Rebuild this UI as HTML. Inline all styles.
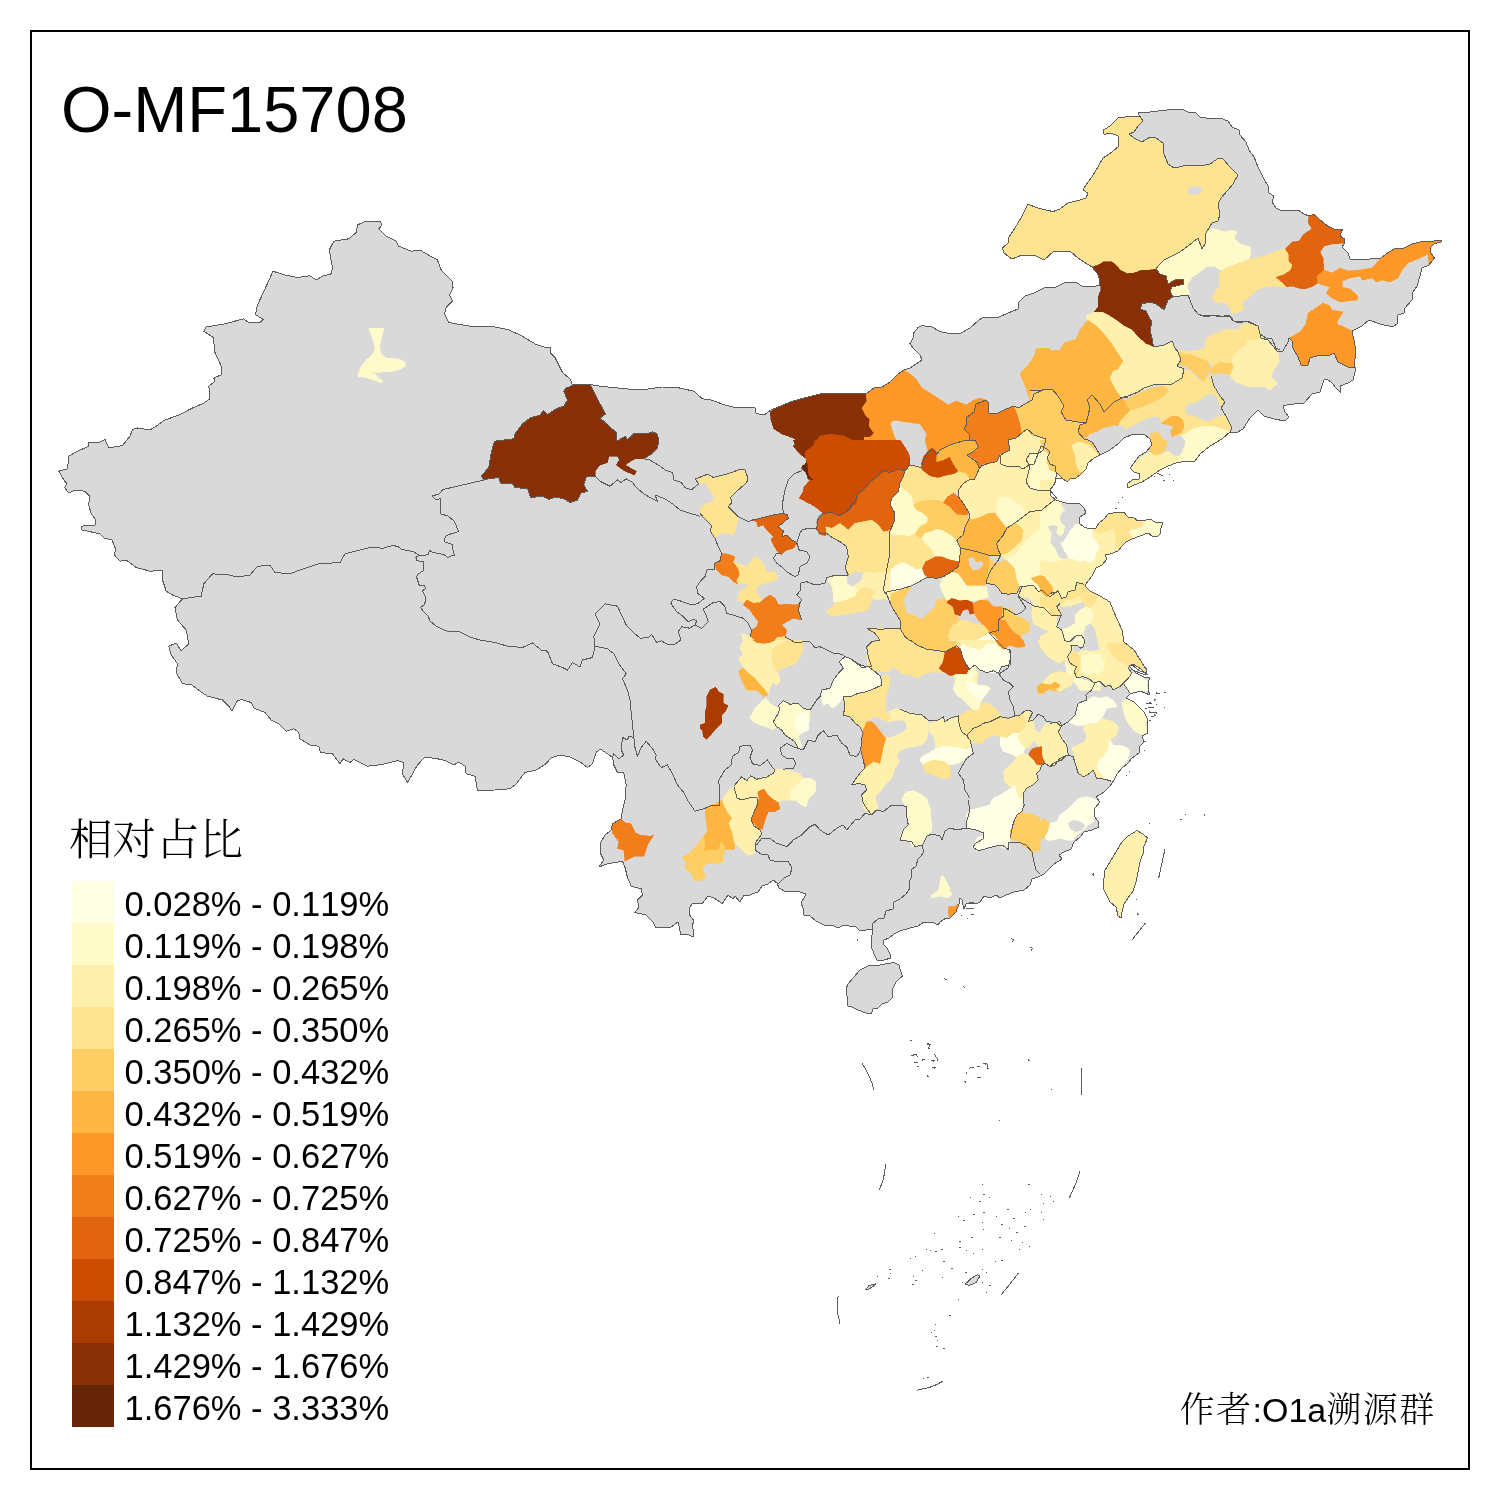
<!DOCTYPE html>
<html><head><meta charset="utf-8"><title>O-MF15708</title>
<style>
html,body{margin:0;padding:0;background:#fff;}
body{width:1500px;height:1500px;position:relative;overflow:hidden;font-family:"Liberation Sans","Noto Sans CJK SC",sans-serif;color:#000;font-kerning:none;font-feature-settings:"kern" 0;}
.frame{position:absolute;left:30px;top:30px;width:1436px;height:1436px;border:2px solid #000;box-sizing:content-box;}
.title{position:absolute;left:61px;top:72px;font-size:65px;line-height:76px;white-space:nowrap;}
.ltitle{position:absolute;left:69px;top:810px;font-size:43.5px;line-height:60px;font-family:"Liberation Serif","Noto Serif CJK SC",serif;white-space:nowrap;font-weight:300;}
.sw{position:absolute;left:72px;width:42px;height:42px;}
.lb{position:absolute;left:124.5px;font-size:34.5px;line-height:42px;height:42px;white-space:nowrap;margin-top:1.7px;}
.author{position:absolute;left:1179.5px;top:1386px;font-size:34px;line-height:48px;white-space:nowrap;font-family:"Liberation Sans","Noto Serif CJK SC",serif;font-weight:300;}
.cj{font-size:35px;letter-spacing:1.5px;}
</style></head><body>
<svg width="1500" height="1500" viewBox="0 0 1500 1500" shape-rendering="crispEdges" style="position:absolute;left:0;top:0">
<polygon points="58.8,471.2 67.5,468.8 68.8,456.2 77.5,451.2 88.8,446.2 88.8,442.5 100,442 105,439.5 108.8,448 122.5,445.5 130,436.2 132.5,429.5 137.5,428 150,430 156.2,426.2 163.8,420.5 180,414.5 192.5,408 202.5,403.8 210,398.8 208.8,386.2 215,381.2 213.8,378 222,374.5 221.2,366.2 215,352.5 213.2,337.5 203.8,331.2 206.2,327 225,323.8 243.8,318.8 247.5,322 260,322.5 263.2,319.5 255.5,314.5 257.5,305 266.2,286.2 273,271.2 285,275 297.5,277.5 310,275.8 316.2,280 322.5,276.2 331.2,273.8 332.5,267.5 329.2,250 333.8,241.2 348.8,238.8 356.2,232.5 357.5,225 363.8,222 380,221.2 382,225 378.8,228.8 386.2,236.2 396.2,241.2 398.8,246.2 411.2,251.2 420,250 427.5,254.5 437.5,260 441.2,270 452.5,281.2 453,287.5 449.5,295 452.5,301.2 446.2,307.5 444.5,313.8 448.8,322.5 462.5,325 475,327 491.2,326.2 507.5,329.5 520,335 536.2,344.5 543.8,347 550,347 550,352.5 555,357.5 562.5,372.5 570,378.8 572.5,385 590,384.5 600,386.2 617.5,388 637.5,390 650,388.8 662.5,387 675,387 693.8,391.2 702.5,398.8 711.2,400 725,405 735,407.5 755,408 756.2,413.8 765,414.5 770,410.5 776,408 790,402 804,398 820,394 836,393.6 854,393.6 866,394 874,388 882,387 890,382 898,374 904,370 910,368 916,364 922,360 920,355 913,348 910,343.6 913,338 914,332.4 918,327.6 922,325.6 932,327 940,331.6 950,333.6 959,334 970,328 978,321 983,317 990,318 999,317 1008,313 1018,309 1019,302 1025,296 1034,293 1044,288 1056,287 1064,283 1076,282.4 1082,286 1092,287 1100,285 1099.6,279 1097,273 1092,267 1084,262 1078,258 1071,252 1060,251.6 1054,251 1044,260 1034,255 1022,255 1012,259 1004,253 1002.4,248 1008,243 1009,237 1015,228 1021,218 1028,204.4 1038,208 1053,211.6 1060,209 1068,203 1080,200 1086,198 1088,193 1083,190 1086,185 1092,177 1098,167 1103,158 1112,152 1119,146 1118,136 1111,133 1104,134.4 1103.4,130 1110,126 1118,118 1132,116 1140,116.4 1138,113 1150,112 1172,109.4 1182,109 1188,112 1196,113 1200,117 1212,119 1220,118 1228,121 1232,127 1239,130 1240,135 1246,142 1249,150 1254,157 1258,167 1263,177 1268,186 1269,193 1274,196 1272,202 1276,208 1282,211 1290,210 1299,210.6 1304,214 1309,216 1314,214.4 1320,220 1328,226 1336,230 1342.4,229.4 1340,236 1344.4,239 1345,243 1342,247 1348,253 1350,259 1360,259.6 1370,259 1381,258 1386,254 1395,248.4 1404,248 1412,244 1420,242 1430,241.6 1441,240 1442,241.6 1434,244 1430,248 1431,253 1434.4,258 1429,265 1422,268 1420,276 1417,286 1413,292 1412,300 1405,308 1404,313 1398,315 1397,324 1393,327 1380,324 1369,320 1362,326 1352,331 1354,340 1356,352 1354,367 1356,368 1353,380 1348,383 1340,386 1341,393 1336,388 1332,383 1327,379 1324,380 1320,392 1312,394 1304,403 1294,404 1283,405.6 1285,412 1289,417 1285,421 1274,419 1264,416 1258,410 1250,418 1243,429 1236,433 1230,432 1222,439 1222,439 1210,446 1200,454 1195,461 1186,461 1176,463 1168,466 1160,470 1150,477 1142,482 1134,485 1128,488 1127,484 1132,480 1139,479 1140,474 1134,472 1130,468 1134,463 1139,456 1146,452 1152,445 1150,439 1144,434 1132,434.4 1124,438 1118,444 1110,450 1100,455 1094,458 1088,463 1086,469 1080,475 1076,478 1070,479 1067,482 1062,478 1056,479 1054,485 1050,490 1051,496 1056,500 1062,502 1070,504 1079,503 1084,508 1086,513 1080,517 1079,523 1084,527 1090,529 1096,528 1099,523 1104,519 1108,514 1118,512 1124,512.4 1128,517 1134,518 1138,521 1146,520 1150,519 1155,522 1163,522 1161,528 1160,534 1158,536 1152,536 1148,533 1140,536 1132,539 1126,542 1122,546 1118,551 1110,554 1105,555 1107,559 1102,565 1096,568 1092,576 1088,581 1085,586 1090,591 1100,596 1110,602 1113,610 1118,621 1122,630 1124,642 1134,650 1139,658 1144,666 1147,670 1146,673 1140,671 1132,665 1129,666 1136,673 1144,677 1150,678 1148,682 1148,690 1150,695 1140,691 1130,694 1126,698 1134,702 1140,708 1144,712 1148,720 1147,728 1148,733 1142,736 1144,742 1140,746 1139,753 1132,758 1128,763 1122,768 1117,774 1114,780 1110,786 1104,792 1096,797 1100,802 1095,808 1094,816 1098,821 1099,827 1092,830 1084,832 1080,837 1074,842 1071,849 1064,852 1059,855 1062,859 1054,864 1048,870 1044,874 1038,877 1032,879 1030,885 1024,890 1014,892 1006,895 1000,898 996,895 990,898 984,896 980,902 976,904 972,902 966,904 964,909 962,900 960,898 959,904 956,912 950,918 946,918 940,922 938,925 932,922 924,922 918,926 910,928 900,931 894,934 889,938 884,940 883,944 887,948 890,954 891,958 884,960 877,960 874,954 871,946 871,938 873,932 872,929 868,929.6 860,931 856,927 849,926 844,925 838,928 832,925 824,925 816,921 810,916 804,915 803,908 801,903 804,898 806,894 800,892 792,891 786,892 779,888 777,883 773,880 768,884 762,886 758,892 752,894 748,896 744,895 740,902 740,902 735,896 733,899 728,895 722,904 720,902 714,898 708,896 702,904 693,903 689,908 689,914 694,921 692,926 694,932 693,937 688,934.4 681,935 678,922 670,928 664,927 656,928 652.5,921.2 646.2,915 635,912.5 638.8,907.5 637.5,900 642.5,895 641.2,888.8 631.2,886.2 627.5,877.5 625,867.5 622.5,861.2 607.5,863.8 598.8,867 603.8,860 600,852.5 600,843.8 605,835 611.2,830 612.5,823.8 621.2,818.8 622.5,810 625,800 626.2,785 623.8,772.5 617.5,772.5 613.8,765 612.5,757.5 607.5,753.8 600,748.8 596.2,752.5 592.5,763.8 587.5,767.5 580,762 570,757 560,755 551.2,758 545,764.5 536.2,770 525,772.5 516.2,783.8 510,788.8 495,790 477.5,790.5 475,776.2 466.2,773.8 465,766.2 458.8,762 453.8,765 445,760.5 437.5,758.8 425,757 417.5,765 412.5,773.8 407.5,782.5 402.5,773.8 403.8,762.5 397.5,760.5 382.5,764.5 367.5,766.2 353.8,759.5 350,762.5 343,758.8 340,763.8 332.5,753.8 320.5,752.5 318.8,746.2 310,745 300,738.8 298.8,732.5 293.8,728.8 286.2,731.2 278.8,723.8 271.2,720 265,712.5 253.8,708 251.2,702.5 241.2,699.5 237,701.2 232,711.2 228.8,706.2 222.5,700 207.5,696.2 200,691.2 191.2,684.5 182.5,683.8 176.2,672.5 177.5,663.8 171.2,655 168.8,646.2 176.2,643 181.2,650.8 188.8,643.8 186.2,630 177.5,620 175,607.5 182.5,598.8 172.5,595 166.2,591.2 162.5,580 162.5,570.5 150,571.2 136.2,567.5 126.2,560 120,561.2 114.5,555 115.5,548.8 112,540 103.8,538 100,533.8 82,530 81.2,526.2 95,525 95.8,520 91.2,513.8 88.8,505 89.5,496.2 85,491.2 75,490 68.8,493 64.5,487.5 67,483.8 63.8,480 58.8,471.2" fill="#D9D9D9" stroke="none"/>
<polygon points="1137,830.6 1143,834 1147.6,838 1144,846 1143.6,852 1140,862 1138,872 1136,882 1133,891 1128,898 1124,904 1122,912 1121,918 1118,916 1116,907 1110,902 1106,894 1103,888 1104,878 1105,870 1110,862 1116,852 1122,842 1128,836" fill="#FFF0AE" stroke="#5c5c5c" stroke-width="1"/>
<polygon points="848,984 853,978 860,970 868,966 880,965 894,962.4 899,965 901,972 902.4,976 896,982 893,988 892,998 888,1002 882,1004 878,1008 873,1009 871.6,1013.6 866,1013 858,1010 852,1007 848,1006 847,996 846.4,988" fill="#D9D9D9" stroke="#5c5c5c" stroke-width="1"/>
<defs><clipPath id="cn"><polygon points="58.8,471.2 67.5,468.8 68.8,456.2 77.5,451.2 88.8,446.2 88.8,442.5 100,442 105,439.5 108.8,448 122.5,445.5 130,436.2 132.5,429.5 137.5,428 150,430 156.2,426.2 163.8,420.5 180,414.5 192.5,408 202.5,403.8 210,398.8 208.8,386.2 215,381.2 213.8,378 222,374.5 221.2,366.2 215,352.5 213.2,337.5 203.8,331.2 206.2,327 225,323.8 243.8,318.8 247.5,322 260,322.5 263.2,319.5 255.5,314.5 257.5,305 266.2,286.2 273,271.2 285,275 297.5,277.5 310,275.8 316.2,280 322.5,276.2 331.2,273.8 332.5,267.5 329.2,250 333.8,241.2 348.8,238.8 356.2,232.5 357.5,225 363.8,222 380,221.2 382,225 378.8,228.8 386.2,236.2 396.2,241.2 398.8,246.2 411.2,251.2 420,250 427.5,254.5 437.5,260 441.2,270 452.5,281.2 453,287.5 449.5,295 452.5,301.2 446.2,307.5 444.5,313.8 448.8,322.5 462.5,325 475,327 491.2,326.2 507.5,329.5 520,335 536.2,344.5 543.8,347 550,347 550,352.5 555,357.5 562.5,372.5 570,378.8 572.5,385 590,384.5 600,386.2 617.5,388 637.5,390 650,388.8 662.5,387 675,387 693.8,391.2 702.5,398.8 711.2,400 725,405 735,407.5 755,408 756.2,413.8 765,414.5 770,410.5 776,408 790,402 804,398 820,394 836,393.6 854,393.6 866,394 874,388 882,387 890,382 898,374 904,370 910,368 916,364 922,360 920,355 913,348 910,343.6 913,338 914,332.4 918,327.6 922,325.6 932,327 940,331.6 950,333.6 959,334 970,328 978,321 983,317 990,318 999,317 1008,313 1018,309 1019,302 1025,296 1034,293 1044,288 1056,287 1064,283 1076,282.4 1082,286 1092,287 1100,285 1099.6,279 1097,273 1092,267 1084,262 1078,258 1071,252 1060,251.6 1054,251 1044,260 1034,255 1022,255 1012,259 1004,253 1002.4,248 1008,243 1009,237 1015,228 1021,218 1028,204.4 1038,208 1053,211.6 1060,209 1068,203 1080,200 1086,198 1088,193 1083,190 1086,185 1092,177 1098,167 1103,158 1112,152 1119,146 1118,136 1111,133 1104,134.4 1103.4,130 1110,126 1118,118 1132,116 1140,116.4 1138,113 1150,112 1172,109.4 1182,109 1188,112 1196,113 1200,117 1212,119 1220,118 1228,121 1232,127 1239,130 1240,135 1246,142 1249,150 1254,157 1258,167 1263,177 1268,186 1269,193 1274,196 1272,202 1276,208 1282,211 1290,210 1299,210.6 1304,214 1309,216 1314,214.4 1320,220 1328,226 1336,230 1342.4,229.4 1340,236 1344.4,239 1345,243 1342,247 1348,253 1350,259 1360,259.6 1370,259 1381,258 1386,254 1395,248.4 1404,248 1412,244 1420,242 1430,241.6 1441,240 1442,241.6 1434,244 1430,248 1431,253 1434.4,258 1429,265 1422,268 1420,276 1417,286 1413,292 1412,300 1405,308 1404,313 1398,315 1397,324 1393,327 1380,324 1369,320 1362,326 1352,331 1354,340 1356,352 1354,367 1356,368 1353,380 1348,383 1340,386 1341,393 1336,388 1332,383 1327,379 1324,380 1320,392 1312,394 1304,403 1294,404 1283,405.6 1285,412 1289,417 1285,421 1274,419 1264,416 1258,410 1250,418 1243,429 1236,433 1230,432 1222,439 1222,439 1210,446 1200,454 1195,461 1186,461 1176,463 1168,466 1160,470 1150,477 1142,482 1134,485 1128,488 1127,484 1132,480 1139,479 1140,474 1134,472 1130,468 1134,463 1139,456 1146,452 1152,445 1150,439 1144,434 1132,434.4 1124,438 1118,444 1110,450 1100,455 1094,458 1088,463 1086,469 1080,475 1076,478 1070,479 1067,482 1062,478 1056,479 1054,485 1050,490 1051,496 1056,500 1062,502 1070,504 1079,503 1084,508 1086,513 1080,517 1079,523 1084,527 1090,529 1096,528 1099,523 1104,519 1108,514 1118,512 1124,512.4 1128,517 1134,518 1138,521 1146,520 1150,519 1155,522 1163,522 1161,528 1160,534 1158,536 1152,536 1148,533 1140,536 1132,539 1126,542 1122,546 1118,551 1110,554 1105,555 1107,559 1102,565 1096,568 1092,576 1088,581 1085,586 1090,591 1100,596 1110,602 1113,610 1118,621 1122,630 1124,642 1134,650 1139,658 1144,666 1147,670 1146,673 1140,671 1132,665 1129,666 1136,673 1144,677 1150,678 1148,682 1148,690 1150,695 1140,691 1130,694 1126,698 1134,702 1140,708 1144,712 1148,720 1147,728 1148,733 1142,736 1144,742 1140,746 1139,753 1132,758 1128,763 1122,768 1117,774 1114,780 1110,786 1104,792 1096,797 1100,802 1095,808 1094,816 1098,821 1099,827 1092,830 1084,832 1080,837 1074,842 1071,849 1064,852 1059,855 1062,859 1054,864 1048,870 1044,874 1038,877 1032,879 1030,885 1024,890 1014,892 1006,895 1000,898 996,895 990,898 984,896 980,902 976,904 972,902 966,904 964,909 962,900 960,898 959,904 956,912 950,918 946,918 940,922 938,925 932,922 924,922 918,926 910,928 900,931 894,934 889,938 884,940 883,944 887,948 890,954 891,958 884,960 877,960 874,954 871,946 871,938 873,932 872,929 868,929.6 860,931 856,927 849,926 844,925 838,928 832,925 824,925 816,921 810,916 804,915 803,908 801,903 804,898 806,894 800,892 792,891 786,892 779,888 777,883 773,880 768,884 762,886 758,892 752,894 748,896 744,895 740,902 740,902 735,896 733,899 728,895 722,904 720,902 714,898 708,896 702,904 693,903 689,908 689,914 694,921 692,926 694,932 693,937 688,934.4 681,935 678,922 670,928 664,927 656,928 652.5,921.2 646.2,915 635,912.5 638.8,907.5 637.5,900 642.5,895 641.2,888.8 631.2,886.2 627.5,877.5 625,867.5 622.5,861.2 607.5,863.8 598.8,867 603.8,860 600,852.5 600,843.8 605,835 611.2,830 612.5,823.8 621.2,818.8 622.5,810 625,800 626.2,785 623.8,772.5 617.5,772.5 613.8,765 612.5,757.5 607.5,753.8 600,748.8 596.2,752.5 592.5,763.8 587.5,767.5 580,762 570,757 560,755 551.2,758 545,764.5 536.2,770 525,772.5 516.2,783.8 510,788.8 495,790 477.5,790.5 475,776.2 466.2,773.8 465,766.2 458.8,762 453.8,765 445,760.5 437.5,758.8 425,757 417.5,765 412.5,773.8 407.5,782.5 402.5,773.8 403.8,762.5 397.5,760.5 382.5,764.5 367.5,766.2 353.8,759.5 350,762.5 343,758.8 340,763.8 332.5,753.8 320.5,752.5 318.8,746.2 310,745 300,738.8 298.8,732.5 293.8,728.8 286.2,731.2 278.8,723.8 271.2,720 265,712.5 253.8,708 251.2,702.5 241.2,699.5 237,701.2 232,711.2 228.8,706.2 222.5,700 207.5,696.2 200,691.2 191.2,684.5 182.5,683.8 176.2,672.5 177.5,663.8 171.2,655 168.8,646.2 176.2,643 181.2,650.8 188.8,643.8 186.2,630 177.5,620 175,607.5 182.5,598.8 172.5,595 166.2,591.2 162.5,580 162.5,570.5 150,571.2 136.2,567.5 126.2,560 120,561.2 114.5,555 115.5,548.8 112,540 103.8,538 100,533.8 82,530 81.2,526.2 95,525 95.8,520 91.2,513.8 88.8,505 89.5,496.2 85,491.2 75,490 68.8,493 64.5,487.5 67,483.8 63.8,480 58.8,471.2"/></clipPath></defs>
<g stroke="none" clip-path="url(#cn)">
<polygon points="368.8,328.2 383.8,328.2 379.5,346.2 381.2,353.8 386.2,358 397.5,358.8 405,362.5 405.5,366.2 395,371.2 372.5,372.5 382.5,381.2 381.2,383 367.5,378 357.5,376.2 361.2,366.2 367.5,358.8 373.8,352.5 375,346.2" fill="#FFFACA" stroke="#FFFACA" stroke-width="0.6"/>
<polygon points="572.5,385.5 590,384.5 605.5,414.2 600,418 616.2,432.5 617,441.2 625,436.2 627.5,439.5 633.8,433.8 646.2,433.8 652.5,432 657,433.8 658.8,440 657.5,447.5 650,455 643.8,458.8 635,458.8 628.8,462.5 625,465 636.2,471.2 634.5,475 625,471.2 616.2,465 619.5,460 617.5,456.2 608.8,456.2 607.5,462.5 600,465 595,471.2 595,476.2 586.2,477 583.8,485 587.5,491.2 581.2,493 577.5,500 570,502.5 563.8,498.8 555,497 548.8,499.5 542.5,496.2 530.5,497.5 527.5,488.8 515,487.5 512.5,483.8 501.2,483.8 498.8,477.5 483.8,479.5 481.2,476.2 488.8,467.5 491.2,452.5 494.5,441.2 513.8,438.8 515,433.8 522.5,423.8 530,418 540,415 543.8,410.5 547.5,414.5 556.2,408.8 563.8,406.2 567.5,400 563.8,391.2 566.2,388" fill="#882F05" stroke="#882F05" stroke-width="0.6"/>
<polygon points="621.2,818.8 625,822.5 631.2,823.8 635,832.5 640,835 650,836.2 653.8,835 647.5,845 643.8,856.2 635,856.2 625,861.2 623.8,850 617.5,848.8 618.8,841.2 612.5,832.5 612,825" fill="#F27E1B" stroke="#F27E1B" stroke-width="0.6"/>
<polygon points="770,412 776,408 790,402 804,398 820,394 836,393.6 854,393.6 866,394 867,401 862,408 866,416 870,419 869,426 874,433 870,437 864,437 864,442 852,440 844,436 830,434 820,436 814,444 808,450 803,448 806,454 805,458 800,454 793,446 799,442 793,438 782,434 774,429 771,420" fill="#882F05" stroke="#882F05" stroke-width="0.6"/>
<polygon points="806,459 809,461 810,472 813,475 812.4,480 808,479 806,471 801.6,468 803,465 806,466" fill="#662506" stroke="#662506" stroke-width="0.6"/>
<polygon points="814,444 820,436 830,434 844,436 852,440 864,442 882,443 890,446 902,449 908,452 910,458 908,466 904,468 898,470 890,473 883,472 878,478 874,477 870,486 864,490 859,497 855,500 854,508 850,506 848,514 838,516 830,512 824,507 816,503 810,504 799,498 803,492 804,487 810,480 813,475 810,472 809,461 805,458 806,454 808,450" fill="#CC4C02" stroke="#CC4C02" stroke-width="0.6"/>
<polygon points="866,394 874,388 882,387 890,382 898,374 904,370 910,374 916,379 922,388 930,393 938,398 948,405 956,401 966,405 974,400 980,398 986,400 976,404 974,412 966,418 967,424 964,429 969,434 970,440 962,443 950,446 942,450 936,451 932,448 928,451 925,440 927,434 920,424 906,422 894,420 890,423 894,436 900,448 890,446 882,443 864,442 864,437 870,437 874,433 869,426 870,419 866,416 862,408 867,401" fill="#FE9929" stroke="#FE9929" stroke-width="0.6"/>
<polygon points="974,412 976,404 986,400 988,402 989,413 998,413 1006,409 1014,406 1019,420 1022,433 1016,438 1008,440 1010,450 1004,453 1000,454 996,462 984,464 978,467 976,460 967,455 976,450 978,446 972,443 970,440 969,434 964,429 967,424 966,418" fill="#F27E1B" stroke="#F27E1B" stroke-width="0.6"/>
<polygon points="936,451 942,450 950,446 962,443 970,440 972,443 978,446 976,450 967,455 976,460 978,467 976,476 970,478 966,472 958,470 954,460 948,458 942,460 937,462" fill="#FEB642" stroke="#FEB642" stroke-width="0.6"/>
<polygon points="924,456 928,451 932,448 936,451 937,462 942,460 948,458 954,460 958,470 952,472 944,475 938,478 929,477 922,470 921,465" fill="#CC4C02" stroke="#CC4C02" stroke-width="0.6"/>
<polygon points="904,468 908,466 910,465 906,472 902,480 898,488 894,496 890,502 892,510 895,517 893,526 888,532 882,532 876,524 868,520 860,522 850,530 844,524 838,523 836,527 827,526 825.6,536 819,534 816.6,522 819,516 826,511 830,512 838,516 848,514 850,506 854,508 855,500 859,497 864,490 870,486 874,477 878,478 883,472 890,473 898,470" fill="#E1640E" stroke="#E1640E" stroke-width="0.6"/>
<polygon points="1008,440 1016,438 1022,433 1027,429 1034,435 1046,439 1043,450 1038,454 1034,464 1029,465 1023,469 1018,466 1008,467 1001,464 1000,456 1004,453 1010,450" fill="#FFF0AE" stroke="#FFF0AE" stroke-width="0.6"/>
<polygon points="1014,406 1019,416 1022,433 1027,429 1034,435 1046,439 1050,438 1050,389 1044,389.6 1034,394 1032,400 1018,408" fill="#FECE65" stroke="#FECE65" stroke-width="0.6"/>
<polygon points="1038,349 1046,348 1050,349 1050,389 1044,389.6 1034,394 1027,389 1026,380 1020,373 1029,364 1034,356" fill="#FEB642" stroke="#FEB642" stroke-width="0.6"/>
<polygon points="1092,267 1084,262 1078,258 1071,252 1060,251.6 1054,251 1044,260 1034,255 1022,255 1012,259 1004,253 1002.4,248 1008,243 1009,237 1015,228 1021,218 1028,204.4 1038,208 1053,211.6 1060,209 1068,203 1080,200 1086,198 1088,193 1083,190 1086,185 1092,177 1098,167 1103,158 1112,152 1119,146 1118,136 1111,133 1104,134.4 1103.4,130 1110,126 1118,118 1132,116 1140,116.4 1143,121 1138,126 1134,132 1129,134 1134,138 1142,142 1150,137 1156,138 1163,143 1164,154 1168,164 1174,168 1188,165 1200,166 1210,164 1218,158.4 1223,159 1230,167 1238,175 1233,184 1228,190 1221,198 1218,204 1220,214 1218,221 1212,223 1206,233 1205,244 1202,249 1198,238 1188,246 1180,252 1172,256 1164,260 1158,266 1156,269 1150,270 1142,270 1134,273 1127,273.6 1120,270 1117,266 1112,262 1104,261.6 1098,265" fill="#FEE391" stroke="#FEE391" stroke-width="0.6"/>
<polygon points="1187,190 1192,186.4 1201,187 1202,191 1198,194 1189,194.4" fill="#D9D9D9" stroke="#D9D9D9" stroke-width="0.6"/>
<polygon points="1092,267 1098,265 1104,261.6 1112,262 1117,266 1120,270 1127,273.6 1134,273 1142,270 1150,270 1156,269 1160,274 1166,276 1168,284 1177,279 1183,279 1183.6,284 1172,287 1170,291 1173,297 1168,300 1164,310 1159,306 1156,304 1150,302 1142,304 1140,309 1146,311 1149,317 1152,322 1150,330 1152,338 1153.6,347 1146,344 1138,337 1132,330 1124,326 1116,320 1108,315 1102,312 1094,312 1098,307 1098.4,296 1101,290 1099.6,279 1097,273" fill="#882F05" stroke="#882F05" stroke-width="0.6"/>
<polygon points="1158,266 1164,260 1172,256 1180,252 1188,246 1198,238 1202,249 1205,244 1206,233 1212,228 1224,232 1232,230 1237,232 1234,238 1240,244 1250,247 1251,254 1248,260 1247,266 1238,267 1228,269 1220,270 1214,266 1206,267 1200,272 1192,277 1187,286 1190,295 1174,296 1170,291 1172,287 1183.6,284 1183,279 1177,279 1168,284 1166,276 1160,274 1156,269" fill="#FFFACA" stroke="#FFFACA" stroke-width="0.6"/>
<polygon points="1086,316 1094,312 1102,312 1108,315 1116,320 1124,326 1132,330 1138,337 1146,344 1153.6,347 1164,345 1172,341 1175,348 1178,352 1181,360 1177,366 1184,369 1182,378 1172,384 1156,384 1144,388 1138,392 1128,396 1120,398 1114,388 1111,380 1117,370 1123,361 1118,354 1112,344 1104,334 1096,326 1088,320" fill="#FFF0AE" stroke="#FFF0AE" stroke-width="0.6"/>
<polygon points="1088,320 1096,326 1104,334 1112,344 1118,354 1123,361 1117,370 1111,380 1114,388 1120,398 1116,400 1030,400 1026,388 1020,374 1030,366 1034,360 1036,349 1046,348 1050,351 1060,350 1064,343 1076,339 1080,330 1086,322" fill="#FEB642" stroke="#FEB642" stroke-width="0.6"/>
<polygon points="1309,216 1314,214.4 1320,220 1328,226 1336,230 1342.4,229.4 1340,236 1344.4,239 1345,243 1332,244 1324,246 1320,252 1323,258 1324,270 1317,276 1318,283 1311,287 1304,289 1298,288 1292,286 1286,287 1281,282 1275,277 1284,274 1290,270 1292,265 1288,261 1288,254 1285,249 1292,242 1299,241 1304,234 1312,229 1308,222" fill="#E1640E" stroke="#E1640E" stroke-width="0.6"/>
<polygon points="1317,276 1324,270 1332,273 1340,268 1348,271 1360,270 1372,268 1381,258 1386,254 1395,248.4 1404,248 1412,244 1420,242 1430,241.6 1441,240 1442,241.6 1434,244 1430,248 1431,253 1434.4,258 1429,265 1428,254 1420,258 1408,263 1402,270 1398,278 1390,282 1382,280 1376,282 1372,278 1362,280 1360,276 1350,278 1342,281 1342,287 1350,289 1358,296 1357,300 1348,301 1340,302 1332,298 1326,293 1330,287 1320,284 1318,283" fill="#FE9929" stroke="#FE9929" stroke-width="0.6"/>
<polygon points="1289,338 1300,332 1306,324 1308,313 1316,308 1323,303 1330,306 1332,310 1343,312 1338,320 1337,324 1346,328 1352,331 1354,340 1356,352 1354,367 1348,367 1338,362 1334,353 1328,356 1320,355 1310,358 1308,365 1301,365 1298,357 1293,348 1292,341" fill="#FE9929" stroke="#FE9929" stroke-width="0.6"/>
<polygon points="1220,272 1226,268 1250,259 1264,256 1280,250 1285,249 1288,254 1288,261 1292,265 1290,270 1284,274 1275,277 1281,282 1286,287 1268,286 1256,290 1248,298 1242,302 1244,310 1232,314 1230,308 1224,302 1216,302 1212,299 1216,290 1220,286 1219,278" fill="#FEE391" stroke="#FEE391" stroke-width="0.6"/>
<polygon points="1030,370 1114,370 1110,378 1116,390 1122,398 1114,402 1108,408 1104,412 1100,404 1092,395 1087,400 1090,407 1088,416 1086,423 1078,422 1066,420 1061,412 1064,406 1058,396 1052,389 1042,390 1030,390" fill="#FEB642" stroke="#FEB642" stroke-width="0.6"/>
<polygon points="1087,400 1092,395 1100,404 1104,412 1108,408 1114,402 1122,398 1126,402 1130,408 1128,414 1124,418 1126,422 1123,430 1116,426 1108,432 1104,428 1098,431 1090,434 1084,439 1078,432 1080,425 1086,423 1088,416 1090,407" fill="#FEB642" stroke="#FEB642" stroke-width="0.6"/>
<polygon points="1114,370 1186,370 1184,378 1174,380 1170,385 1156,384 1146,389 1134,392 1128,397 1122,398 1116,390 1110,378" fill="#FFF0AE" stroke="#FFF0AE" stroke-width="0.6"/>
<polygon points="1071,446 1078,442 1084,439 1088,440 1092,442 1096,448 1100,455 1094,458 1088,463 1086,469 1080,470 1077,464 1076,454 1072,450" fill="#FFF0AE" stroke="#FFF0AE" stroke-width="0.6"/>
<polygon points="1030,390 1042,390 1052,389 1058,396 1064,406 1061,412 1066,420 1078,422 1080,425 1078,432 1084,439 1078,442 1071,446 1072,450 1076,454 1077,464 1080,470 1086,469 1080,475 1076,478 1070,479 1067,482 1062,478 1056,472 1055,466 1050,464 1047,458 1050,452 1047,449 1041,446 1045,439 1036,436 1030,434" fill="#FECE65" stroke="#FECE65" stroke-width="0.6"/>
<polygon points="1030,453 1038,454 1041,446 1047,449 1050,452 1047,458 1050,464 1055,466 1056,472 1062,478 1056,479 1054,485 1050,490 1040,491 1030,488" fill="#FFFACA" stroke="#FFFACA" stroke-width="0.6"/>
<polygon points="949,906 954,907 958,904 957,909 955,914 950,918 948,913" fill="#FE9929" stroke="#FE9929" stroke-width="0.6"/>
<polygon points="942,875 945,880 948,888 952,894 948,898 940,896 932,898 931,895.6 938,891 940,884" fill="#FFFACA" stroke="#FFFACA" stroke-width="0.6"/>
<polygon points="906,800 926,800 928,810 930,820 932,830 927,836 922,846 917,844 912,847 910,840 902,839 900,836 904,830 910,826 908,816 906,808" fill="#FFFACA" stroke="#FFFACA" stroke-width="0.6"/>
<polygon points="970,810 980,808 990,806 992,800 1024,800 1022,808 1016,816 1012,824 1010,836 1009,850 1002,845 996,846 988,848 978,851 973,847 976,843 983,839 984,833 976,830 966,828 967,820" fill="#FFFFE5" stroke="#FFFFE5" stroke-width="0.6"/>
<polygon points="1016,816 1024,813 1032,814 1040,818 1040,850 1036,851 1032,852 1026,845 1018,842 1012,838 1010,836 1012,824" fill="#FECE65" stroke="#FECE65" stroke-width="0.6"/>
<polygon points="758,800 776,800 780,808 770,812 764,811 763,820 761,830 756,826 751,820 754,812" fill="#F27E1B" stroke="#F27E1B" stroke-width="0.6"/>
<polygon points="740,800 758,800 754,812 751,820 756,826 761,830 760,835 756,840 755,852 748,855 740,848" fill="#FFF0AE" stroke="#FFF0AE" stroke-width="0.6"/>
<polygon points="863,801 868,800 876,800 878,806 874,812 872,815 867,812 863,807" fill="#FFF0AE" stroke="#FFF0AE" stroke-width="0.6"/>
<polygon points="705,808 712,805 721,804 724,810 728,818 732,820 727,830 730,838 735,844 734,849 724,850 720,846 718,851 710,852 704,852 705,840 708,834 706,820" fill="#FEB642" stroke="#FEB642" stroke-width="0.6"/>
<polygon points="696,846 700,841 704,840 704,852 710,852 718,851 720,846 724,850 723,862 716,864 708,862 702,868 706,877 700,881 694,880 691,873 685,869 686,862 682,857 688,854" fill="#FECE65" stroke="#FECE65" stroke-width="0.6"/>
<polygon points="723,798 729,790 734,787 738,798 746,799 754,797 757,802 754,812 751,820 754,826 760,830 757,838 755,846 754,854 748,855 743,851 738,846 735,844 730,838 727,830 732,820 728,818 724,810" fill="#FFF0AE" stroke="#FFF0AE" stroke-width="0.6"/>
<polygon points="736,785 742,777 746,781 751,776 756,780 764,777 772,774 774,769 780,770 790,771 800,774 803,780 796,789 792,796 786,798 778,802 772,798 767,795 764,790 758,792 754,797 746,799 738,798" fill="#FFF0AE" stroke="#FFF0AE" stroke-width="0.6"/>
<polygon points="796,789 803,780 810,778 816,783 815,792 809,798 806,807 800,804 795,798 792,796" fill="#FFFACA" stroke="#FFFACA" stroke-width="0.6"/>
<polygon points="761,791 766,790 767,795 772,798 778,802 780,809 772,812 766,810 763,820 762,829 757,828 752,822 754,812 757,802 760,798" fill="#F27E1B" stroke="#F27E1B" stroke-width="0.6"/>
<polygon points="850,440 900,440 906.7,450 909.2,458.3 910,465 905,470.8 898.3,469.2 890,472.5 881.7,470 878.3,475.8 870,481.7 865,488.3 858.3,493.3 855,501.7 850,506.7" fill="#CC4C02" stroke="#CC4C02" stroke-width="0.6"/>
<polygon points="905,470.8 903.3,476.7 900,483.3 898.3,491.7 891.7,498.3 890,505 894.2,511.7 895,520 889.2,532.5 883.3,531.7 878.3,525 871.7,520.8 865,520.8 858.3,523.3 850,526.7 850,506.7 855,501.7 858.3,493.3 865,488.3 870,481.7 878.3,475.8 881.7,470 890,472.5 898.3,469.2" fill="#E1640E" stroke="#E1640E" stroke-width="0.6"/>
<polygon points="850,526.7 858.3,523.3 865,520.8 871.7,520.8 878.3,525 883.3,531.7 889.2,532.5 890,546.7 889.2,556.7 885.8,575 883.3,590 875,595 866.7,594.2 865,586.7 865.8,571.7 860,568.3 850,568.3" fill="#FEE391" stroke="#FEE391" stroke-width="0.6"/>
<polygon points="850,586.7 856.7,587.5 865,586.7 866.7,594.2 875,595 883.3,590 885,592.5 886.7,594.2 880,600 870,598.3 860,600.8 850,600" fill="#FFF0AE" stroke="#FFF0AE" stroke-width="0.6"/>
<polygon points="910,465 921.7,465.8 923.3,470.8 930,475.8 938.3,477.5 946.7,475 955,473.3 958.3,470.8 966.7,473.3 970,479.2 963.3,483.3 958.3,490 953.3,493.3 946.7,497.5 943.3,502.5 936.7,500 928.3,500 920,501.7 913.3,505 911.7,496.7 906.7,491.7 901.7,488.3 900,483.3 903.3,476.7 905,470.8" fill="#FEE391" stroke="#FEE391" stroke-width="0.6"/>
<polygon points="921.7,468.3 923.3,460 928.3,451.7 932.5,449.2 936.7,454.2 936.7,461.7 943.3,460 950,456.7 954.2,465 958.3,470.8 955,473.3 946.7,475 938.3,477.5 930,475.8 923.3,470.8" fill="#CC4C02" stroke="#CC4C02" stroke-width="0.6"/>
<polygon points="936.7,454.2 940,450 950,445 963.3,440 975,440 978.3,446.7 973.3,451.7 966.7,455 976.7,461.7 979.2,468.3 976.7,475 974.2,479.2 970,479.2 966.7,473.3 958.3,470.8 954.2,465 950,456.7 943.3,460 936.7,461.7" fill="#FEB642" stroke="#FEB642" stroke-width="0.6"/>
<polygon points="900,483.3 901.7,488.3 906.7,491.7 911.7,496.7 913.3,505 916.7,510 923.3,513.3 928.3,518.3 926.7,523.3 920,526.7 915,533.3 908.3,536.7 900,535 893.3,535.8 889.2,532.5 895,520 894.2,511.7 890,505 891.7,498.3 898.3,491.7" fill="#FFFACA" stroke="#FFFACA" stroke-width="0.6"/>
<polygon points="913.3,505 920,501.7 928.3,500 936.7,500 943.3,502.5 950,506.7 956.7,514.2 966.7,515 969.2,518.3 965,526.7 963.3,535 956.7,540 950,535 943.3,530.8 936.7,529.2 931.7,531.7 925,533.3 921.7,538.3 916.7,536.7 915,533.3 920,526.7 926.7,523.3 928.3,518.3 923.3,513.3 916.7,510" fill="#FECE65" stroke="#FECE65" stroke-width="0.6"/>
<polygon points="943.3,502.5 946.7,497.5 953.3,493.3 958.3,496.7 963.3,503.3 969.2,513.3 966.7,515 956.7,514.2 950,506.7" fill="#F27E1B" stroke="#F27E1B" stroke-width="0.6"/>
<polygon points="921.7,538.3 925,533.3 931.7,531.7 936.7,529.2 943.3,530.8 950,535 956.7,540 960.8,548.3 959.2,561.7 950,560 941.7,556.7 935,556.7 931.7,550 925,543.3" fill="#FFFACA" stroke="#FFFACA" stroke-width="0.6"/>
<polygon points="921.7,568.3 925,561.7 935,556.7 941.7,556.7 950,560 959.2,561.7 958.3,566.7 951.7,571.7 943.3,576.7 936.7,578.3 928.3,577.5 923.3,573.3" fill="#E1640E" stroke="#E1640E" stroke-width="0.6"/>
<polygon points="889.2,532.5 893.3,535.8 900,535 908.3,536.7 915,533.3 916.7,536.7 921.7,538.3 925,543.3 931.7,550 935,556.7 925,561.7 921.7,568.3 916.7,570 911.7,566.7 903.3,562.5 896.7,565 890,570 889.2,556.7 890,546.7" fill="#FEE391" stroke="#FEE391" stroke-width="0.6"/>
<polygon points="883.3,590 885.8,575 890,570 896.7,565 903.3,562.5 911.7,566.7 916.7,570 921.7,568.3 923.3,573.3 925,578.3 916.7,583.3 911.7,586.7 900,590 891.7,593.3 885,592.5" fill="#FFFFE5" stroke="#FFFFE5" stroke-width="0.6"/>
<polygon points="866.7,628.3 880,629.2 900,628.3 905,636.7 911.7,643.3 923.3,648.3 933.3,650.8 946.7,650 945,656.7 940,665 933.3,668.3 925,673.3 916.7,671.7 905,673.3 898.3,670 888.3,665 881.7,668.3 871.7,666.7 868.3,656.7 866.7,646.7 871.7,641.7 880,640 875,633.3" fill="#FEE391" stroke="#FEE391" stroke-width="0.6"/>
<polygon points="850,658.3 861.7,665.8 871.7,671.7 876.7,676.7 880.8,683.3 881.7,690 850,690" fill="#FFFFE5" stroke="#FFFFE5" stroke-width="0.6"/>
<polygon points="881.7,676.7 886.7,673.3 890,680 888.3,690 881.7,690" fill="#FEE391" stroke="#FEE391" stroke-width="0.6"/>
<polygon points="886.7,594.2 891.7,593.3 900,590 911.7,586.7 906.7,593.3 903.3,600 905,606.7 906.7,613.3 913.3,615 921.7,619.2 928.3,613.3 935,606.7 936.7,600 943.3,598.3 950,600 954.2,608.3 956.7,616.7 960,620 953.3,625 950,630 948.3,636.7 951.7,643.3 960,648.3 946.7,650 933.3,650.8 923.3,648.3 911.7,643.3 905,636.7 900,628.3 900,620 891.7,606.7" fill="#FECE65" stroke="#FECE65" stroke-width="0.6"/>
<polygon points="940,585 943.3,576.7 951.7,571.7 958.3,573.3 966.7,585 976.7,585 986.7,586.7 988.3,596.7 980,600 973.3,600.8 966.7,600 960,600.8 951.7,598.3 946.7,600 941.7,590" fill="#FFFACA" stroke="#FFFACA" stroke-width="0.6"/>
<polygon points="959.2,550 966.7,549.2 976.7,551.7 988.3,555 990,560 988.3,571.7 986.7,580 985,585 976.7,585 966.7,585 958.3,573.3 951.7,571.7 958.3,566.7 959.2,561.7 960.8,548.3" fill="#FEB642" stroke="#FEB642" stroke-width="0.6"/>
<polygon points="968.3,558.3 973.3,557.5 976.7,562.5 981.7,561.7 983.3,565 978.3,569.2 973.3,570 970,565" fill="#D9D9D9" stroke="#D9D9D9" stroke-width="0.6"/>
<polygon points="946.7,602.5 951.7,598.3 960,600.8 966.7,600 973.3,603.3 974.2,613.3 970,614.2 968.3,609.2 963.3,610 960,615.8 955,614.2 953.3,606.7" fill="#CC4C02" stroke="#CC4C02" stroke-width="0.6"/>
<polygon points="973.3,603.3 980,600 988.3,600.8 993.3,606.7 1003.3,606.7 1001.7,620 996.7,621.7 997.5,630 993.3,631.7 988.3,630.8 983.3,625 978.3,620 974.2,613.3" fill="#FE9929" stroke="#FE9929" stroke-width="0.6"/>
<polygon points="1003.3,606.7 1004.2,608.3 1011.7,609.2 1015,615.8 1023.3,618.3 1030,623.3 1029.2,631.7 1020,635.8 1015,633.3 1010,628.3 1005,620 1001.7,620" fill="#FECE65" stroke="#FECE65" stroke-width="0.6"/>
<polygon points="996.7,621.7 1001.7,620 1005,620 1010,628.3 1015,633.3 1020,635.8 1025,645 1016.7,646.7 1010,645 1005,648.3 1000,643.3 995,636.7 988.3,633.3 988.3,630.8 993.3,631.7 997.5,630" fill="#FE9929" stroke="#FE9929" stroke-width="0.6"/>
<polygon points="948.3,636.7 950,630 953.3,625 960,620 966.7,620.8 973.3,623.3 980,625 983.3,625 988.3,630.8 988.3,633.3 983.3,636.7 976.7,640 966.7,642.5 960,645 951.7,643.3" fill="#FEE391" stroke="#FEE391" stroke-width="0.6"/>
<polygon points="960,648.3 961.7,644.2 966.7,642.5 976.7,640 983.3,636.7 988.3,633.3 995,636.7 1000,643.3 1005,648.3 1010,650 1010.8,656.7 1010,663.3 1003.3,666.7 998.3,671.7 991.7,673.3 983.3,670 976.7,665 970,663.3 965,656.7" fill="#FFFFE5" stroke="#FFFFE5" stroke-width="0.6"/>
<polygon points="946.7,650 953.3,653.3 960,648.3 965,656.7 970,663.3 969.2,671.7 963.3,673.3 953.3,675 948.3,671.7 940,668.3 945,660" fill="#CC4C02" stroke="#CC4C02" stroke-width="0.6"/>
<polygon points="953.3,675 963.3,673.3 969.2,671.7 970,663.3 975,666.7 978.3,673.3 976.7,681.7 978.3,690 956.7,690 955,681.7" fill="#FFF0AE" stroke="#FFF0AE" stroke-width="0.6"/>
<polygon points="980,470 981.7,465.8 988.3,463.3 996.7,461.7 1000,455 1001.7,465 1010,466.7 1020,468.3 1025,465 1030.8,465.8 1030,480 1028.3,485 1033.3,488.3 1041.7,491.7 1050,490 1056.7,498.3 1050,503.3 1041.7,510 1030,511.7 1023.3,516.7 1016.7,521.7 1010,525 1006.7,528.3 1000,520 995,513.3 988.3,513.3 981.7,516.7 971.7,520 969.2,518.3 969.2,513.3 963.3,503.3 958.3,496.7 958.3,490 963.3,483.3 970,479.2 974.2,479.2 976.7,475 979.2,468.3" fill="#FFF0AE" stroke="#FFF0AE" stroke-width="0.6"/>
<polygon points="998.3,498.3 1006.7,496.7 1015,501.7 1023.3,506.7 1023.3,516.7 1016.7,521.7 1010,525 1006.7,528.3 1000,520 996.7,510" fill="#FFFACA" stroke="#FFFACA" stroke-width="0.6"/>
<polygon points="969.2,518.3 971.7,520 981.7,516.7 988.3,513.3 995,513.3 1000,520 1006.7,528.3 1003.3,535 996.7,543.3 998.3,550 1000,555 988.3,555 976.7,551.7 966.7,549.2 960.8,548.3 956.7,540 963.3,535 965,526.7" fill="#FEB642" stroke="#FEB642" stroke-width="0.6"/>
<polygon points="1030.8,465.8 1030,455 1039.2,453.3 1043.3,450 1050,455 1046.7,461.7 1050,470 1056.7,472.5 1055,483.3 1050,490 1041.7,491.7 1033.3,488.3 1028.3,485 1030,480" fill="#FFFACA" stroke="#FFFACA" stroke-width="0.6"/>
<polygon points="1040,440 1100,440 1100,456.7 1093.3,461.7 1086.7,470 1080,471.7 1073.3,480 1068.3,482.5 1061.7,476.7 1056.7,472.5 1050,470 1046.7,461.7 1050,455 1043.3,450" fill="#FECE65" stroke="#FECE65" stroke-width="0.6"/>
<polygon points="1071.7,445 1078.3,441.7 1090,445 1096.7,453.3 1100,456.7 1093.3,461.7 1086.7,470 1080,471.7 1076.7,465 1075,455" fill="#FFF0AE" stroke="#FFF0AE" stroke-width="0.6"/>
<polygon points="1056.7,498.3 1061.7,501.7 1063.3,510 1060,515 1050,526.7 1041.7,528.3 1033.3,533.3 1026.7,540 1020,548.3 1015,555 1010,556.7 1006.7,560 1000,555 998.3,550 996.7,543.3 1003.3,535 1006.7,528.3 1010,525 1016.7,521.7 1023.3,516.7 1030,511.7 1041.7,510 1050,503.3" fill="#FFF0AE" stroke="#FFF0AE" stroke-width="0.6"/>
<polygon points="996.7,543.3 1003.3,535 1006.7,528.3 1016.7,523.3 1023.3,530 1021.7,540 1015,546.7 1006.7,553.3 1000,555 998.3,550" fill="#FECE65" stroke="#FECE65" stroke-width="0.6"/>
<polygon points="988.3,571.7 990,560 996.7,563.3 1006.7,560 1010,563.3 1015,568.3 1016.7,578.3 1020,586.7 1016.7,593.3 1008.3,594.2 1001.7,593.3 998.3,588.3 995,585 986.7,583.3 986.7,580" fill="#FECE65" stroke="#FECE65" stroke-width="0.6"/>
<polygon points="1006.7,560 1015,555 1020,548.3 1026.7,540 1033.3,533.3 1041.7,528.3 1050,526.7 1060,515 1063.3,510 1066.7,505 1080,505 1086.7,511.7 1083.3,516.7 1080,521.7 1086.7,528.3 1100,528.3 1100,568.3 1090,578.3 1083.3,581.7 1075,586.7 1068.3,590 1065,598.3 1061.7,596.7 1058.3,590 1050,596.7 1046.7,595 1041.7,590 1038.3,591.7 1033.3,585 1023.3,586.7 1020,586.7 1016.7,578.3 1015,568.3 1010,563.3" fill="#FFFACA" stroke="#FFFACA" stroke-width="0.6"/>
<polygon points="1061.7,503.3 1080,505 1086.7,511.7 1083.3,516.7 1080,521.7 1073.3,526.7 1066.7,533.3 1065,543.3 1066.7,553.3 1061.7,556.7 1056.7,553.3 1055,543.3 1051.7,536.7 1050,530 1056.7,526.7 1060,515" fill="#D9D9D9" stroke="#D9D9D9" stroke-width="0.6"/>
<polygon points="1030.8,578.3 1041.7,575 1048.3,581.7 1052.5,588.3 1050,596.7 1046.7,595 1041.7,590 1038.3,585" fill="#FEB642" stroke="#FEB642" stroke-width="0.6"/>
<polygon points="1018.3,593.3 1023.3,586.7 1033.3,585 1038.3,591.7 1041.7,590 1046.7,595 1050,596.7 1058.3,605 1061.7,615 1056.7,615 1050,613.3 1051.7,608.3 1046.7,604.2 1040,600 1033.3,601.7 1026.7,596.7 1021.7,598.3" fill="#FFF0AE" stroke="#FFF0AE" stroke-width="0.6"/>
<polygon points="1033.3,601.7 1040,600 1046.7,604.2 1051.7,608.3 1050,613.3 1056.7,615 1056.7,623.3 1058.3,630 1050,631.7 1041.7,628.3 1033.3,623.3 1031.7,613.3" fill="#FFF0AE" stroke="#FFF0AE" stroke-width="0.6"/>
<polygon points="1040,636.7 1050,631.7 1058.3,630 1065,640 1066.7,648.3 1060,655 1056.7,660 1050,658.3 1045,653.3 1041.7,645" fill="#FFF0AE" stroke="#FFF0AE" stroke-width="0.6"/>
<polygon points="1065,640 1073.3,641.7 1076.7,636.7 1083.3,638.3 1085,645 1080,646.7 1073.3,645 1071.7,653.3 1066.7,660 1073.3,666.7 1076.7,675 1083.3,680 1091.7,681.7 1100,680 1100,690 1080,690 1075,683.3 1070,676.7 1066.7,670 1065,661.7 1066.7,648.3" fill="#FFFACA" stroke="#FFFACA" stroke-width="0.6"/>
<polygon points="1058.3,605 1061.7,596.7 1065,598.3 1068.3,590 1075,586.7 1083.3,581.7 1090,586.7 1100,590 1100,606.7 1093.3,605 1083.3,601.7 1073.3,605 1065,606.7" fill="#FFF0AE" stroke="#FFF0AE" stroke-width="0.6"/>
<polygon points="1050,561.7 1056.7,558.3 1066.7,556.7 1073.3,550 1083.3,553.3 1093.3,550 1098.3,545 1105,540 1133.3,540 1123.3,542.5 1121.7,547.5 1116.7,548.3 1117.5,554.2 1111.7,555.8 1106.7,560 1103.3,565 1099.2,568.3 1094.2,570 1091.7,575 1088.3,580 1084.2,584.2 1076.7,582.5 1075,590 1068.3,591.7 1065.8,597.5 1061.7,598.3 1058.3,591.7 1050,593.3" fill="#FFF0AE" stroke="#FFF0AE" stroke-width="0.6"/>
<polygon points="1061.7,540 1098.3,540 1095,550 1083.3,555 1073.3,551.7 1066.7,556.7 1060,550" fill="#FFFACA" stroke="#FFFACA" stroke-width="0.6"/>
<polygon points="1055,540 1061.7,540 1068.3,556.7 1060,558.3 1056.7,550" fill="#D9D9D9" stroke="#D9D9D9" stroke-width="0.6"/>
<polygon points="1098.3,545 1105,540 1133.3,540 1123.3,542.5 1121.7,547.5 1116.7,548.3 1117.5,554.2 1111.7,555.8 1106.7,560 1103.3,565 1099.2,568.3 1096.7,560 1095,551.7" fill="#FEE391" stroke="#FEE391" stroke-width="0.6"/>
<polygon points="1084.2,584.2 1085,588.3 1091.7,590 1098.3,595 1095,603.3 1090,608.3 1085.8,606.7 1082.5,600 1080,595 1075,597.5 1070,600 1061.7,598.3 1065.8,597.5 1068.3,591.7 1075,590 1076.7,582.5" fill="#FEE391" stroke="#FEE391" stroke-width="0.6"/>
<polygon points="1050,593.3 1058.3,591.7 1061.7,598.3 1060,603.3 1056.7,606.7 1060,613.3 1053.3,615 1050,611.7" fill="#FECE65" stroke="#FECE65" stroke-width="0.6"/>
<polygon points="1098.3,595 1100,595.8 1109.2,600.8 1112.5,610 1118.3,621.7 1121.7,628.3 1124.2,640 1124.7,643.3 1116.7,642.5 1107.5,642.5 1108.3,650 1100,651.7 1098.3,643.3 1096.7,635 1095,628.3 1090,623.3 1093.3,616.7 1091.7,610 1090,608.3 1095,603.3" fill="#FFF0AE" stroke="#FFF0AE" stroke-width="0.6"/>
<polygon points="1085.8,606.7 1090,608.3 1091.7,610 1093.3,616.7 1090,623.3 1085,626.7 1083.3,633.3 1085,640 1081.7,646.7 1076.7,645 1075,638.3 1078.3,635 1075,636.7 1070,641.7 1065,640.8 1061.7,630 1070,626.7 1075,623.3 1075,615 1080,610" fill="#FFFACA" stroke="#FFFACA" stroke-width="0.6"/>
<polygon points="1107.5,642.5 1116.7,642.5 1124.7,643.3 1133.3,649.2 1136.7,655 1144.2,660.8 1146.7,668.3 1143.3,671.7 1138.3,668.3 1133.3,664.2 1130,664.2 1128.3,667.5 1123.3,663.3 1116.7,660 1111.7,655 1108.3,650" fill="#FEE391" stroke="#FEE391" stroke-width="0.6"/>
<polygon points="1067.5,656.7 1071.7,650 1076.7,653.3 1083.3,650 1091.7,651.7 1098.3,650 1100,651.7 1108.3,650 1111.7,655 1116.7,660 1123.3,663.3 1128.3,667.5 1131.7,673.3 1128.3,678.3 1123.3,683.3 1120,686.7 1113.3,690 1110,685 1105,686.7 1100,681.7 1093.3,682.5 1088.3,678.3 1083.3,676.7 1076.7,677.5 1074.2,671.7 1076.7,666.7 1070,663.3" fill="#FFF0AE" stroke="#FFF0AE" stroke-width="0.6"/>
<polygon points="1080,656.7 1090,653.3 1100,655 1105,661.7 1103.3,670 1098.3,673.3 1091.7,673.3 1085,675 1081.7,668.3" fill="#FFFACA" stroke="#FFFACA" stroke-width="0.6"/>
<polygon points="1067.5,656.7 1071.7,650 1076.7,653.3 1080.8,656.7 1080,666.7 1076.7,677.5 1074.2,671.7 1076.7,666.7 1070,663.3" fill="#FEE391" stroke="#FEE391" stroke-width="0.6"/>
<polygon points="1128.3,678.3 1131.7,673.3 1138.3,675 1143.3,678.3 1147.5,681.7 1146.7,686.7 1148.3,690.8 1140,690.8 1135,691.7 1130,693.3 1126.7,688.3 1123.3,683.3" fill="#FFFFE5" stroke="#FFFFE5" stroke-width="0.6"/>
<polygon points="1129.2,665.8 1133.3,664.2 1140,668.3 1145.8,673.3 1147.5,675 1143.3,674.2 1136.7,671.7 1131.7,669.2" fill="#FFFACA" stroke="#FFFACA" stroke-width="0.6"/>
<polygon points="1121.7,703.3 1126.7,696.7 1130,700 1135,702.5 1138.3,706.7 1143.3,711.7 1146.7,713.3 1150,720 1145,721.7 1146.7,728.3 1148.3,731.7 1145,735 1140,734.2 1133.3,730 1128.3,723.3 1125,716.7 1123.3,710" fill="#FFFACA" stroke="#FFFACA" stroke-width="0.6"/>
<polygon points="1086.7,700 1093.3,696.7 1100,698.3 1106.7,696.7 1113.3,700 1116.7,706.7 1106.7,708.3 1101.7,718.3 1096.7,723.3 1091.7,723.3 1085,725 1075,725 1068.3,721.7 1075,715 1076.7,708.3 1078.3,703.3" fill="#FFFFE5" stroke="#FFFFE5" stroke-width="0.6"/>
<polygon points="1085,725 1091.7,723.3 1096.7,723.3 1101.7,718.3 1106.7,720 1113.3,721.7 1118.3,726.7 1116.7,735 1110,740 1108.3,748.3 1105,755 1098.3,761.7 1091.7,763.3 1086.7,761.7 1078.3,755 1073.3,751.7 1071.7,748.3 1078.3,745 1085,741.7 1086.7,735 1083.3,728.3" fill="#FFF0AE" stroke="#FFF0AE" stroke-width="0.6"/>
<polygon points="1113.3,745 1118.3,745 1125,746.7 1130,750 1128.3,756.7 1123.3,768.3 1118.3,773.3 1115.8,780 1113.3,785 1111.7,781.7 1105,779.2 1100,773.3 1096.7,766.7 1098.3,761.7 1105,755 1108.3,748.3 1110,740" fill="#FFFFE5" stroke="#FFFFE5" stroke-width="0.6"/>
<polygon points="1073.3,751.7 1078.3,755 1086.7,761.7 1091.7,763.3 1098.3,761.7 1096.7,766.7 1100,773.3 1105,779.2 1096.7,778.3 1093.3,770 1090,773.3 1083.3,776.7 1078.3,773.3 1075,763.3 1073.3,756.7" fill="#FFF0AE" stroke="#FFF0AE" stroke-width="0.6"/>
<polygon points="1050,633.3 1056.7,626.7 1061.7,630 1065,640.8 1070,641.7 1070.8,645 1071.7,650 1067.5,656.7 1065,660 1060,661.7 1055,656.7 1050,655" fill="#FFF0AE" stroke="#FFF0AE" stroke-width="0.6"/>
<polygon points="1065,660 1067.5,656.7 1070,663.3 1076.7,666.7 1074.2,671.7 1076.7,677.5 1073.3,678.3 1071.7,670" fill="#FFF0AE" stroke="#FFF0AE" stroke-width="0.6"/>
<polygon points="1050,673.3 1060,671.7 1066.7,673.3 1071.7,678.3 1070,685 1063.3,690 1056.7,691.7 1050,690.8" fill="#FECE65" stroke="#FECE65" stroke-width="0.6"/>
<polygon points="1050,681.7 1056.7,683.3 1060,686.7 1055,690 1050,689.2" fill="#FEB642" stroke="#FEB642" stroke-width="0.6"/>
<polygon points="1050,723.3 1060,721.7 1061.7,725.8 1058.3,731.7 1061.7,738.3 1066.7,745 1068.3,755 1060,758.3 1055,765 1050,766.7" fill="#FFF0AE" stroke="#FFF0AE" stroke-width="0.6"/>
<polygon points="695,479.2 707.5,474.2 713.3,477.5 726.7,474.2 738.3,470 745,469.7 748,478.3 746.7,482.5 738.3,490 730.8,497.5 731.7,502.5 728.3,506.7 733.3,511.7 738.3,516.7 736.7,525 735,530.8 732.5,535.8 730,533.3 720,533.3 715,538.3 710,530.8 711.7,525.8 705.8,520 700,513.3 700.8,506.7 706.7,503.3 714.2,500.8 713.3,495 708.3,488.3 706.7,482.5 698.3,484.2 700,481.7" fill="#FEE391" stroke="#FEE391" stroke-width="0.6"/>
<polygon points="752.5,520 763.3,517.5 773.3,515 783.3,513.3 787.5,515 788.3,518.3 783.3,522.5 778.3,526.7 783.3,530.8 782.5,536.7 786.7,535 791.7,540 796.7,542.5 793.3,548.3 786.7,550 781.7,554.2 776.7,550.8 773.3,544.2 770.8,540 773.3,536.7 766.7,530 763.3,525 758.3,526.7 756.7,522.5" fill="#E1640E" stroke="#E1640E" stroke-width="0.6"/>
<polygon points="714.2,563.3 720,560.8 721.7,553.3 728.3,554.2 735,556.7 733.3,561.7 738.3,568.3 740,575 736.7,580 738.3,584.2 733.3,581.7 728.3,576.7 721.7,575 716.7,570" fill="#F27E1B" stroke="#F27E1B" stroke-width="0.6"/>
<polygon points="733.3,561.7 740,564.2 746.7,566.7 751.7,560 755,556.7 760,559.2 765,566.7 766.7,571.7 775,571.7 778.3,578.3 771.7,581.7 763.3,583.3 756.7,586.7 756.7,593.3 761.7,598.3 760,602.5 753.3,603.3 746.7,600 741.7,602.5 737.5,600 740,590 746.7,588.3 746.7,583.3 738.3,584.2 736.7,580 740,575 738.3,568.3" fill="#FEE391" stroke="#FEE391" stroke-width="0.6"/>
<polygon points="743.3,605 746.7,600 753.3,603.3 760,602.5 765,598.3 770,595 775,598.3 778.3,605 786.7,604.2 796.7,605 800,602.5 798.3,610 801.7,620 793.3,618.3 786.7,621.7 781.7,625 786.7,630 785,636.7 776.7,637.5 771.7,642.5 763.3,643.3 756.7,641.7 750,636.7 751.7,630 756.7,626.7 758.3,621.7 753.3,615 750,610" fill="#F27E1B" stroke="#F27E1B" stroke-width="0.6"/>
<polygon points="741.7,633.3 750,636.7 756.7,641.7 763.3,643.3 771.7,642.5 776.7,637.5 785,636.7 790,640 800,641.7 803.3,648.3 800,656.7 795,663.3 786.7,666.7 778.3,670 775,673.3 780,681.7 776.7,685 770,680 763.3,676.7 756.7,675 748.3,673.3 743.3,666.7 738.3,658.3 743.3,655 740,648.3 743.3,641.7" fill="#FFF0AE" stroke="#FFF0AE" stroke-width="0.6"/>
<polygon points="756.7,641.7 763.3,643.3 771.7,642.5 776.7,637.5 785,636.7 790,640 800,641.7 803.3,648.3 800,656.7 795,663.3 786.7,666.7 778.3,670 775,663.3 771.7,655 763.3,650 760,646.7" fill="#FEE391" stroke="#FEE391" stroke-width="0.6"/>
<polygon points="738.3,671.7 743.3,667.5 748.3,673.3 756.7,675 760,681.7 765,690 746.7,690 741.7,680" fill="#FEB642" stroke="#FEB642" stroke-width="0.6"/>
<polygon points="800,498.3 804.2,490 808.3,485 812.5,480 808.3,475 806.7,461.7 805,451.7 813.3,445 815,440 890,440 890,471.7 883.3,472.5 876.7,476.7 868.3,485 858.3,495 856.7,504.2 851.7,506.7 845,513.3 838.3,515.8 831.7,512.5 823.3,513.3 815,506.7 806.7,501.7" fill="#CC4C02" stroke="#CC4C02" stroke-width="0.6"/>
<polygon points="816.7,530 817.5,520 823.3,513.3 831.7,512.5 838.3,515.8 845,513.3 851.7,506.7 856.7,504.2 858.3,495 868.3,485 876.7,476.7 883.3,472.5 890,471.7 890,530.8 883.3,531.7 878.3,525 871.7,520 863.3,521.7 855,523.3 848.3,530 840,523.3 831.7,528.3 825.8,526.7 820,533.3" fill="#E1640E" stroke="#E1640E" stroke-width="0.6"/>
<polygon points="801.7,468.3 806.7,461.7 808.3,475 812.5,480 810,479.2 805,471.7" fill="#662506" stroke="#662506" stroke-width="0.6"/>
<polygon points="793.3,440 815,440 813.3,445 805,451.7 800,446.7 795,445" fill="#882F05" stroke="#882F05" stroke-width="0.6"/>
<polygon points="825.8,526.7 831.7,528.3 840,523.3 848.3,530 855,523.3 863.3,521.7 871.7,520 878.3,525 883.3,531.7 890,530.8 890,573.3 881.7,571.7 873.3,573.3 865,571.7 856.7,573.3 848.3,575 845,568.3 848.3,556.7 846.7,546.7 840,541.7 833.3,538.3 826.7,533.3" fill="#FEE391" stroke="#FEE391" stroke-width="0.6"/>
<polygon points="826.7,577.5 833.3,575.8 845,575 848.3,578.3 846.7,583.3 853.3,586.7 858.3,590 855,596.7 846.7,600 838.3,602.5 833.3,601.7 833.3,593.3 831.7,585" fill="#FFFACA" stroke="#FFFACA" stroke-width="0.6"/>
<polygon points="846.7,578.3 855,571.7 863.3,573.3 861.7,580 855,585 850,585" fill="#D9D9D9" stroke="#D9D9D9" stroke-width="0.6"/>
<polygon points="825.8,611.7 833.3,605 838.3,602.5 846.7,600 855,596.7 858.3,590 865,586.7 873.3,590 871.7,600 868.3,610 860,611.7 850,613.3 840,615 831.7,615.8" fill="#FEE391" stroke="#FEE391" stroke-width="0.6"/>
<polygon points="865,571.7 873.3,573.3 881.7,571.7 890,573.3 890,600 881.7,598.3 873.3,590 865,586.7 858.3,590 853.3,586.7 855,585 861.7,580 863.3,573.3" fill="#FFF0AE" stroke="#FFF0AE" stroke-width="0.6"/>
<polygon points="866.7,629.2 876.7,628.3 890,628.3 890,671.7 881.7,671.7 873.3,666.7 870,658.3 866.7,650 870,643.3 876.7,640 880,635 873.3,633.3" fill="#FEE391" stroke="#FEE391" stroke-width="0.6"/>
<polygon points="843.3,656.7 850,658.3 856.7,663.3 863.3,666.7 873.3,670 880,676.7 881.7,690 831.7,690 835,680 840,671.7 845,665" fill="#FFFFE5" stroke="#FFFFE5" stroke-width="0.6"/>
<polygon points="706.7,696.7 710,690 715.8,687.2 718.3,691.7 723.3,694.2 723.3,703.3 728.3,705.8 725,711.7 721.7,715 721.7,723.3 718.3,726.7 714.2,730.8 710,735.8 706.7,739.2 703.3,736.7 702.5,730.8 700,728.3 700,725 705,723.3 705,713.3 706.7,706.7" fill="#AA3C03" stroke="#AA3C03" stroke-width="0.6"/>
<polygon points="740,645 745,640 803.3,640 801.7,650 798.3,658.3 793.3,665 783.3,666.7 776.7,671.7 780,678.3 778.3,683.3 773.3,681.7 770,688.3 768.3,695 763.3,696.7 758.3,690 753.3,686.7 746.7,681.7 740,675 741.7,670 748.3,668.3 743.3,661.7 738.3,658.3 743.3,653.3" fill="#FFF0AE" stroke="#FFF0AE" stroke-width="0.6"/>
<polygon points="771.7,650 780,643.3 788.3,640 803.3,640 801.7,650 798.3,658.3 793.3,665 783.3,666.7 776.7,671.7 773.3,665 771.7,656.7" fill="#FEE391" stroke="#FEE391" stroke-width="0.6"/>
<polygon points="740,670 743.3,668.3 748.3,673.3 755,678.3 760,685 765,690 768.3,695 763.3,696.7 756.7,690 750,685 743.3,680 739.2,674.2" fill="#FEB642" stroke="#FEB642" stroke-width="0.6"/>
<polygon points="753.3,640 775,640 770,642.5 763.3,643.3 756.7,642.5" fill="#F27E1B" stroke="#F27E1B" stroke-width="0.6"/>
<polygon points="750,718.3 755,708.3 761.7,701.7 765.8,697.5 770,703.3 775,706.7 780,708.3 778.3,713.3 773.3,721.7 776.7,726.7 773.3,730 766.7,726.7 760,725 753.3,721.7" fill="#FFFACA" stroke="#FFFACA" stroke-width="0.6"/>
<polygon points="773.3,721.7 778.3,713.3 780,708.3 778.3,705.8 783.3,700.8 790,704.2 798.3,703.3 803.3,708.3 810,710 809.2,720 808.3,730 801.7,733.3 798.3,736.7 801.7,746.7 798.3,748.3 795,741.7 790,738.3 785,735 781.7,730 776.7,726.7" fill="#FFFACA" stroke="#FFFACA" stroke-width="0.6"/>
<polygon points="795,718.3 800,713.3 806.7,713.3 809.2,720 808.3,730 801.7,733.3 796.7,730 795,723.3" fill="#FFFFE5" stroke="#FFFFE5" stroke-width="0.6"/>
<polygon points="821.7,690 830,688.3 833.3,680 838.3,673.3 843.3,668.3 839.2,661.7 845,656.7 850,658.3 856.7,663.3 861.7,667.5 868.3,666.7 875,671.7 880.8,676.7 881.7,685 875,688.3 866.7,691.7 858.3,693.3 850,696.7 843.3,696.7 840,701.7 835,706.7 831.7,708.3 828.3,703.3 823.3,705 821.7,698.3" fill="#FFFFE5" stroke="#FFFFE5" stroke-width="0.6"/>
<polygon points="843.3,696.7 850,696.7 858.3,693.3 866.7,691.7 875,688.3 881.7,685 882.5,676.7 886.7,675 889.2,680 888.3,690 885,698.3 885,710 891.7,718.3 888.3,721.7 880,718.3 873.3,716.7 866.7,721.7 863.3,730 860,726.7 855,723.3 850,716.7 843.3,715 845,706.7" fill="#FEE391" stroke="#FEE391" stroke-width="0.6"/>
<polygon points="888.3,721.7 891.7,718.3 888.3,711.7 896.7,708.3 905,711.7 915,713.3 923.3,716.7 928.3,721.7 928.3,730 926.7,738.3 921.7,741.7 913.3,745 905,748.3 898.3,751.7 896.7,756.7 899.2,761.7 895,768.3 891.7,778.3 885,785 880,791.7 875,796.7 876.7,805 875,811.7 871.7,815 866.7,808.3 863.3,803.3 861.7,795 866.7,790 865,785 858.3,783.3 851.7,785 855,780 860,773.3 865,768.3 868.3,765 873.3,761.7 880,763.3 881.7,755 883.3,746.7 885.8,738.3 893.3,736.7 900,733.3 906.7,728.3 905,721.7 896.7,720" fill="#FFF0AE" stroke="#FFF0AE" stroke-width="0.6"/>
<polygon points="861.7,738.3 863.3,730 866.7,721.7 871.7,721.7 876.7,726.7 881.7,733.3 885.8,738.3 883.3,746.7 881.7,755 880,763.3 873.3,761.7 868.3,765 865,768.3 863.3,760 860.8,750" fill="#FE9929" stroke="#FE9929" stroke-width="0.6"/>
<polygon points="930,723.3 941.7,718.3 950,721.7 950,746.7 936.7,743.3 933.3,736.7 928.3,730" fill="#FFF0AE" stroke="#FFF0AE" stroke-width="0.6"/>
<polygon points="936.7,743.3 950,746.7 950,763.3 933.3,764.2 923.3,765 920,760 926.7,755 935,750" fill="#FFFFE5" stroke="#FFFFE5" stroke-width="0.6"/>
<polygon points="923.3,765 933.3,764.2 950,763.3 950,778.3 941.7,778.3 933.3,775 925,771.7" fill="#FEE391" stroke="#FEE391" stroke-width="0.6"/>
<polygon points="906.7,791.7 913.3,790.8 921.7,795 926.7,798.3 930,808.3 930.8,820 931.7,828.3 926.7,835 921.7,845 915,846.7 911.7,841.7 900,840 903.3,830 908.3,825 906.7,816.7 906.7,806.7 901.7,800" fill="#FFFACA" stroke="#FFFACA" stroke-width="0.6"/>
<polygon points="868.3,646.7 875,643.3 883.3,640 910,640 916.7,645 930,650 940,651.7 946.7,650 945,660 940,666.7 933.3,671.7 925,673.3 920,676.7 913.3,673.3 905,673.3 900,668.3 891.7,665 883.3,666.7 878.3,671.7 875,671.7 868.3,666.7 866.7,656.7" fill="#FEE391" stroke="#FEE391" stroke-width="0.6"/>
<polygon points="910,640 950,640 950,648.3 946.7,650 940,651.7 930,650 916.7,645" fill="#FECE65" stroke="#FECE65" stroke-width="0.6"/>
<polygon points="946.7,650 950,648.3 950,675 943.3,671.7 939.2,667.5 945,660" fill="#CC4C02" stroke="#CC4C02" stroke-width="0.6"/>
<polygon points="735.8,785 741.7,776.7 746.7,780 751.7,775.8 756.7,779.2 766.7,776.7 773.3,773.3 775,770 783.3,769.2 793.3,771.7 800,775 803.3,778.3 798.3,783.3 793.3,788.3 790,793.3 790.8,800 783.3,800 776.7,801.7 771.7,798.3 766.7,793.3 763.3,790 756.7,791.7 750,796.7 743.3,798.3 738.3,800 736.7,793.3" fill="#FFF0AE" stroke="#FFF0AE" stroke-width="0.6"/>
<polygon points="790.8,790 798.3,783.3 803.3,778.3 810,778.3 815.8,781.7 815,790 810,793.3 806.7,800 805.8,806.7 800,803.3 795,800 790.8,800" fill="#FFFACA" stroke="#FFFACA" stroke-width="0.6"/>
<polygon points="723.3,805 730,793.3 735.8,785 736.7,793.3 738.3,800 743.3,798.3 750,796.7 756.7,791.7 759.2,798.3 756.7,805 753.3,813.3 751.7,821.7 758.3,828.3 759.2,835 755,845 753.3,853.3 748.3,855 741.7,850 736.7,845 733.3,840 731.7,831.7 728.3,823.3 731.7,818.3 726.7,811.7" fill="#FFF0AE" stroke="#FFF0AE" stroke-width="0.6"/>
<polygon points="757.5,791.7 761.7,790 764.2,789.2 766.7,793.3 771.7,798.3 776.7,801.7 780,808.3 775,811.7 768.3,811.7 765,820 762.5,829.2 758.3,828.3 751.7,821.7 753.3,813.3 756.7,805 759.2,798.3" fill="#F27E1B" stroke="#F27E1B" stroke-width="0.6"/>
<polygon points="705,808.3 713.3,805 721.7,800 723.3,805 726.7,811.7 731.7,818.3 728.3,823.3 731.7,831.7 733.3,840 735,846.7 725,848.3 721.7,841.7 718.3,850 710,850 703.3,851.7 705,843.3 703.3,836.7 708.3,830 706.7,820" fill="#FEB642" stroke="#FEB642" stroke-width="0.6"/>
<polygon points="700,840 703.3,836.7 705,843.3 703.3,851.7 710,850 718.3,850 721.7,841.7 725,848.3 723.3,856.7 716.7,861.7 710,863.3 703.3,865 700,866.7" fill="#FECE65" stroke="#FECE65" stroke-width="0.6"/>
<polygon points="900,640 910,640 915,643.3 925,648.3 938.3,650 945,651.7 943.3,661.7 940,666.7 941.7,673.3 933.3,671.7 925,673.3 918.3,678.3 910,675 900,673.3" fill="#FEE391" stroke="#FEE391" stroke-width="0.6"/>
<polygon points="910,640 956.7,640 955,646.7 948.3,650 945,651.7 938.3,650 925,648.3 915,643.3" fill="#FECE65" stroke="#FECE65" stroke-width="0.6"/>
<polygon points="945,651.7 948.3,650 955,646.7 960.8,650 962.5,656.7 966.7,665 969.2,669.2 966.7,674.2 956.7,674.2 950,675.8 944.2,671.7 939.2,668.3 943.3,661.7" fill="#CC4C02" stroke="#CC4C02" stroke-width="0.6"/>
<polygon points="949.2,640 993.3,640 995,645 988.3,643.3 980,650 971.7,648.3 963.3,645 956.7,640" fill="#FFF0AE" stroke="#FFF0AE" stroke-width="0.6"/>
<polygon points="962.5,656.7 960.8,650 963.3,645 971.7,648.3 980,650 988.3,643.3 995,645 1000,648.3 1008.3,648.3 1010.8,656.7 1010,665 1001.7,666.7 998.3,673.3 993.3,670.8 986.7,672.5 980,670 975,665 969.2,669.2 966.7,665" fill="#FFFFE5" stroke="#FFFFE5" stroke-width="0.6"/>
<polygon points="995,640 1023.3,640 1025,646.7 1016.7,647.5 1010,645 1003.3,649.2 998.3,645" fill="#FE9929" stroke="#FE9929" stroke-width="0.6"/>
<polygon points="953.3,688.3 956.7,678.3 955,674.2 966.7,674.2 969.2,669.2 975,665 976.7,673.3 973.3,680 976.7,685 985,685 990.8,688.3 986.7,693.3 981.7,700 978.3,710 973.3,710 968.3,705 961.7,698.3 956.7,695" fill="#FFFACA" stroke="#FFFACA" stroke-width="0.6"/>
<polygon points="966.7,681.7 978.3,685 990,688.3 981.7,698.3 973.3,696.7 968.3,690" fill="#FFFFE5" stroke="#FFFFE5" stroke-width="0.6"/>
<polygon points="958.3,716.7 963.3,713.3 968.3,710 973.3,710 978.3,710 981.7,703.3 986.7,702.5 993.3,706.7 1000,713.3 1000,716.7 990,721.7 983.3,723.3 978.3,726.7 973.3,728.3 966.7,735 961.7,731.7 959.2,725" fill="#FEE391" stroke="#FEE391" stroke-width="0.6"/>
<polygon points="966.7,735 973.3,728.3 978.3,726.7 983.3,723.3 990,721.7 1000,716.7 1008.3,718.3 1016.7,716.7 1023.3,713.3 1026.7,710 1031.7,711.7 1030,718.3 1026.7,721.7 1025,728.3 1020,733.3 1013.3,733.3 1006.7,738.3 1000,736.7 993.3,735 986.7,738.3 981.7,743.3 975,743.3 970,740" fill="#FEE391" stroke="#FEE391" stroke-width="0.6"/>
<polygon points="1023.3,713.3 1026.7,710 1031.7,711.7 1030,718.3 1033.3,721.7 1035,730 1033.3,740 1030,746.7 1025,748.3 1020,743.3 1016.7,736.7 1020,733.3 1025,728.3 1026.7,721.7" fill="#FFF0AE" stroke="#FFF0AE" stroke-width="0.6"/>
<polygon points="1000,736.7 1006.7,738.3 1013.3,733.3 1020,733.3 1016.7,736.7 1020,743.3 1025,748.3 1023.3,753.3 1016.7,756.7 1010,753.3 1003.3,751.7 1000,745" fill="#FFFFE5" stroke="#FFFFE5" stroke-width="0.6"/>
<polygon points="1043.3,726.7 1046.7,723.3 1058.3,721.7 1061.7,726.7 1060,733.3 1065,741.7 1067.5,750 1066.7,755 1061.7,760 1053.3,763.3 1050,766.7 1045,763.3 1041.7,765 1043.3,756.7 1041.7,748.3 1033.3,740 1035,730 1040,733.3" fill="#FFF0AE" stroke="#FFF0AE" stroke-width="0.6"/>
<polygon points="1028.3,755 1031.7,749.2 1036.7,747.5 1041.7,746.7 1041.7,753.3 1042.5,758.3 1045,763.3 1041.7,765 1036.7,765 1033.3,760" fill="#E1640E" stroke="#E1640E" stroke-width="0.6"/>
<polygon points="1003.3,771.7 1010,765 1015,760 1016.7,756.7 1023.3,753.3 1028.3,755 1033.3,760 1036.7,765 1041.7,765 1040,770 1036.7,773.3 1038.3,780 1033.3,785 1026.7,788.3 1023.3,793.3 1023.3,798.3 1020,800 1016.7,793.3 1015,785 1010,786.7 1005,781.7" fill="#FFF0AE" stroke="#FFF0AE" stroke-width="0.6"/>
<polygon points="966.7,813.3 973.3,810 983.3,806.7 990,805 993.3,798.3 1000,795 1008.3,790 1015,785 1016.7,793.3 1020,800 1023.3,798.3 1024.2,805 1021.7,811.7 1016.7,815 1013.3,823.3 1010,831.7 1010,838.3 1006.7,841.7 1007.5,848.3 1003.3,848.3 998.3,845 990,846.7 983.3,848.3 976.7,851.7 971.7,846.7 975,843.3 976.7,838.3 983.3,835 981.7,830 973.3,828.3 968.3,826.7 966.7,821.7" fill="#FFFFE5" stroke="#FFFFE5" stroke-width="0.6"/>
<polygon points="1016.7,815 1021.7,811.7 1028.3,815 1033.3,820 1040,821.7 1043.3,818.3 1050,823.3 1048.3,831.7 1045,836.7 1040,840 1035,845 1033.3,851.7 1031.7,855 1028.3,848.3 1023.3,846.7 1020,841.7 1013.3,840 1010,838.3 1010,831.7 1013.3,823.3" fill="#FECE65" stroke="#FECE65" stroke-width="0.6"/>
<polygon points="1048.3,831.7 1050,823.3 1056.7,821.7 1060,815 1066.7,810 1073.3,803.3 1078.3,798.3 1086.7,796.7 1093.3,798.3 1098.3,801.7 1096.7,806.7 1100,810 1095,815 1093.3,821.7 1088.3,825 1083.3,830 1076.7,835 1073.3,840 1066.7,840 1060,838.3 1053.3,840 1046.7,840 1045,836.7" fill="#FFFFE5" stroke="#FFFFE5" stroke-width="0.6"/>
<polygon points="1068.3,823.3 1073.3,820 1080,821.7 1085,825 1081.7,830 1075,831.7 1070,828.3" fill="#D9D9D9" stroke="#D9D9D9" stroke-width="0.6"/>
<polygon points="900,711.7 910,713.3 921.7,715 928.3,721.7 927.5,730 926.7,740 921.7,745 913.3,746.7 900,748.3" fill="#FFF0AE" stroke="#FFF0AE" stroke-width="0.6"/>
<polygon points="900,720 905,721.7 906.7,728.3 900,733.3" fill="#D9D9D9" stroke="#D9D9D9" stroke-width="0.6"/>
<polygon points="930,723.3 938.3,720 943.3,721.7 950,718.3 958.3,716.7 959.2,725 961.7,731.7 966.7,735 970,740 971.7,746.7 966.7,750 960,748.3 950,746.7 943.3,746.7 936.7,748.3 935,743.3 940,736.7 941.7,730 933.3,730" fill="#FFF0AE" stroke="#FFF0AE" stroke-width="0.6"/>
<polygon points="921.7,756.7 928.3,753.3 936.7,748.3 943.3,746.7 950,746.7 960,748.3 966.7,750 971.7,746.7 973.3,753.3 966.7,758.3 958.3,763.3 950,765 945,761.7 933.3,760 925,763.3 920,760" fill="#FFFFE5" stroke="#FFFFE5" stroke-width="0.6"/>
<polygon points="923.3,765 925,763.3 933.3,760 945,761.7 946.7,770 943.3,775 940,778.3 933.3,773.3 928.3,771.7" fill="#FEE391" stroke="#FEE391" stroke-width="0.6"/>
<polygon points="905,793.3 913.3,790.8 921.7,795 926.7,800 930,811.7 931.7,823.3 931.7,830 925,835 921.7,843.3 915,846.7 911.7,841.7 900,838.3 903.3,830 908.3,825 906.7,816.7 906.7,806.7 901.7,800" fill="#FFFACA" stroke="#FFFACA" stroke-width="0.6"/>
<polygon points="1038.3,640 1066.7,640 1073.3,645 1071.7,653.3 1065,658.3 1060,663.3 1053.3,660 1048.3,655 1041.7,650" fill="#FFF0AE" stroke="#FFF0AE" stroke-width="0.6"/>
<polygon points="1046.7,678.3 1051.7,673.3 1060,671.7 1068.3,673.3 1073.3,678.3 1071.7,685 1065,688.3 1060,691.7 1055,688.3 1050,688.3 1043.3,693.3 1038.3,693.3 1036.7,686.7 1041.7,683.3" fill="#FFF0AE" stroke="#FFF0AE" stroke-width="0.6"/>
<polygon points="1036.7,686.7 1041.7,683.3 1050,685 1055,681.7 1060,685 1058.3,688.3 1050,688.3 1043.3,693.3 1038.3,693.3" fill="#FEB642" stroke="#FEB642" stroke-width="0.6"/>
<polygon points="940,878.3 942.5,875 946.7,881.7 950,890 940,890" fill="#FFFACA" stroke="#FFFACA" stroke-width="0.6"/>
<polygon points="1040,512 1044,510.7 1048,506.7 1056.7,498 1062,505.3 1065.3,510.7 1061.3,513.3 1060,520 1065.3,526.7 1064,533.3 1060,537.3 1062,542.7 1064,550.7 1068,558 1053.3,562.7 1040,560" fill="#FFFACA" stroke="#FFFACA" stroke-width="0.6"/>
<polygon points="1040,480 1054.7,480 1055.3,484 1050.7,489.3 1049.3,493.3 1053.3,497.3 1056.7,498 1048,506.7 1044,510.7 1040,512" fill="#FFF0AE" stroke="#FFF0AE" stroke-width="0.6"/>
<polygon points="1053.3,562.7 1068,558 1073.3,558.7 1078.7,561.3 1084,560 1089.3,562.7 1094.7,560 1093.3,565.3 1096,568 1092.7,573.3 1089.3,578.7 1085.3,582.7 1078.7,582.7 1076,586.7 1073.3,590.7 1068,593.3 1066.7,597.3 1062,598.7 1060,593.3 1054.7,592 1049.3,596 1046.7,597.3 1052,586.7 1048,577.3 1040,574.7 1040,560" fill="#FFF0AE" stroke="#FFF0AE" stroke-width="0.6"/>
<polygon points="1040,576 1044,576 1048,581.3 1052,586.7 1052.7,591.3 1049.3,596 1046.7,597.3 1042.7,593.3 1040,590.7" fill="#FEB642" stroke="#FEB642" stroke-width="0.6"/>
<polygon points="1062,542.7 1066.7,536 1070.7,529.3 1074.7,524.7 1078.7,525.3 1086.7,529.3 1093.3,530 1092,533.3 1093.3,538.7 1097.3,542.7 1100,546.7 1096,554.7 1094.7,560 1089.3,562.7 1084,560 1078.7,561.3 1073.3,558.7 1068,558 1064,550.7" fill="#FFFFE5" stroke="#FFFFE5" stroke-width="0.6"/>
<polygon points="1062,505.3 1070.7,503.3 1074.7,502.7 1080,504 1082.7,509.3 1086.7,510.7 1086,515.3 1078.7,518.7 1078.7,521.3 1074.7,524.7 1070.7,529.3 1066.7,536 1062,542.7 1060,537.3 1064,533.3 1065.3,526.7 1060,520 1061.3,513.3 1065.3,510.7" fill="#D9D9D9" stroke="#D9D9D9" stroke-width="0.6"/>
<polygon points="1048,526.7 1053.3,525.3 1057.3,526.7 1056,533.3 1061.3,537.3 1060,542.7 1064,550.7 1068,558 1062.7,558.7 1058.7,556 1056,549.3 1050.7,542.7 1052,533.3" fill="#D9D9D9" stroke="#D9D9D9" stroke-width="0.6"/>
<polygon points="1093.3,530 1097.3,527.3 1098.7,523.3 1106.7,518.7 1108.7,514 1114.7,512.7 1120,511.3 1125.3,512.7 1128,516 1133.3,517.3 1137.3,520 1142.7,521.3 1144,524 1140.7,528 1136,529.3 1130.7,530 1128.7,532.7 1132,536 1133.3,538.7 1128,540.7 1124,544 1120,546.7 1118,549.3 1116,546.7 1115.3,540 1114.7,533.3 1112.7,528.7 1106.7,531.3 1100,534 1094.7,534.7" fill="#FEE391" stroke="#FEE391" stroke-width="0.6"/>
<polygon points="1093.3,530 1100,534 1106.7,531.3 1112.7,528.7 1114.7,533.3 1115.3,540 1116,546.7 1118,549.3 1117.3,552.7 1109.3,556 1105.3,560 1100,565.3 1096,568 1093.3,565.3 1094.7,560 1096,554.7 1100,546.7 1097.3,542.7 1093.3,538.7 1092,533.3" fill="#FFF0AE" stroke="#FFF0AE" stroke-width="0.6"/>
<polygon points="1144,524 1142.7,521.3 1146.7,519.3 1150,518.7 1150.7,520.7 1156,521.3 1160.7,522 1164,522.4 1160.7,526 1160.7,532 1157.3,536 1150.7,534.7 1146.7,534.7 1141.3,536.7 1137.3,538.7 1133.3,538.7 1132,536 1128.7,532.7 1130.7,530 1136,529.3 1140.7,528" fill="#FFFACA" stroke="#FFFACA" stroke-width="0.6"/>
<polygon points="1085.3,582.7 1084,586.7 1090.7,590.7 1097.3,597.3 1093.3,602.7 1090.7,608 1086.7,606.7 1082.7,600 1078.7,596 1074.7,598.7 1066.7,597.3 1068,593.3 1073.3,590.7 1076,586.7 1078.7,582.7" fill="#FEE391" stroke="#FEE391" stroke-width="0.6"/>
<polygon points="1040,597.3 1046.7,597.3 1049.3,596 1054.7,592 1060,593.3 1062,598.7 1066.7,597.3 1064,602.7 1057.3,605.3 1060,610.7 1061.3,614.7 1053.3,613.3 1048,608 1040,606.7" fill="#FEE391" stroke="#FEE391" stroke-width="0.6"/>
<polygon points="1118.7,423.3 1126.7,414 1130.7,410 1136,408.7 1144,406 1152,402.7 1158.7,399.3 1165.3,395.3 1168,390 1162.7,386 1173.3,382.7 1181.3,378 1185.3,370 1189.3,370 1200,380.7 1205.3,380 1211.3,375.3 1213.3,383.3 1217.3,392.7 1224,401.3 1221.3,408.7 1226.7,418 1231.3,427.3 1228,431.3 1221.3,428.7 1213.3,426.7 1204,426 1193.3,428.7 1185.3,434 1181.3,435.3 1173.3,435.3 1172,436.7 1162.7,439.3 1157.3,432 1142.7,433.3 1138.7,430 1137.3,423.3 1125.3,428.7 1120,425.3" fill="#FEE391" stroke="#FEE391" stroke-width="0.6"/>
<polygon points="1125.3,400.7 1133.3,395.3 1144,391.3 1154.7,387.3 1162.7,386 1168,390 1165.3,395.3 1158.7,399.3 1152,402.7 1144,406 1136,408.7 1130.7,410 1126.7,406" fill="#FECE65" stroke="#FECE65" stroke-width="0.6"/>
<polygon points="1086.7,439.3 1093.3,434 1102.7,428.7 1113.3,426 1120,425.3 1125.3,428.7 1124,434 1120,440.7 1114.7,448.7 1106.7,452.7 1100,455.3 1096,450 1093.3,443.3" fill="#D9D9D9" stroke="#D9D9D9" stroke-width="0.6"/>
<polygon points="1137.3,423.3 1146.7,419.3 1154.7,416.7 1160,418 1161.3,423.3 1168,424.7 1173.3,427.3 1172,432.7 1173.3,435.3 1181.3,436.7 1185.3,442 1184,448.7 1180,454 1172,452.7 1168,450 1166.7,444.7 1168,442 1162.7,439.3 1160,434 1157.3,432 1150.7,432.7 1142.7,433.3 1138.7,430" fill="#D9D9D9" stroke="#D9D9D9" stroke-width="0.6"/>
<polygon points="1161.3,423.3 1166.7,419.3 1172,416 1178.7,416.7 1183.3,420.7 1184,427.3 1181.3,432.7 1176,435.3 1172,436.7 1170.7,431.3 1173.3,427.3 1168,424.7" fill="#FEB642" stroke="#FEB642" stroke-width="0.6"/>
<polygon points="1149.3,434 1157.3,432 1160,434 1162.7,439.3 1168,442 1166.7,444.7 1165.3,450 1160,454 1154.7,455.3 1149.3,451.3 1148,446 1152,442 1150.7,436.7" fill="#FECE65" stroke="#FECE65" stroke-width="0.6"/>
<polygon points="1185.3,407.3 1189.3,404 1196,402.7 1202.7,398.7 1206.7,395.3 1212,394 1216,396.7 1218.7,403.3 1221.3,408.7 1222.7,415.3 1217.3,416.7 1212,419.3 1206.7,421.3 1201.3,419.3 1197.3,416.7 1192,415.3 1186.7,414" fill="#D9D9D9" stroke="#D9D9D9" stroke-width="0.6"/>
<polygon points="1181.3,435.3 1185.3,434 1193.3,428.7 1204,426 1213.3,426.7 1221.3,428.7 1228,431.3 1229.3,433.3 1221.3,439.3 1213.3,443.3 1206.7,448.7 1200,452.7 1196,460.7 1186.7,460.7 1180,462 1178.7,456.7 1182.7,451.3 1185.3,444.7 1185.3,440.7" fill="#FFFACA" stroke="#FFFACA" stroke-width="0.6"/>
<polygon points="1126.7,483.3 1128,487.3 1137.3,484.7 1146.7,480.7 1154.7,474 1162.7,468.7 1170.7,464.7 1180,462 1178.7,456.7 1173.3,455.3 1168,451.3 1160,454.7 1154.7,456 1149.3,452 1144,455.3 1138.7,458 1134.7,463.3 1130.7,467.3 1132,471.3 1138.7,474 1138.7,479.3 1133.3,480.7" fill="#FFF0AE" stroke="#FFF0AE" stroke-width="0.6"/>
<polygon points="1178.3,350 1191.7,351.7 1205,348.3 1205,340 1211.7,335 1220,331.7 1228.3,329.2 1238.3,330 1240.8,325.8 1248.3,321.7 1256.7,324.2 1260,330 1260.8,336.7 1256.7,340 1248.3,340.8 1245,346.7 1238.3,350 1233.3,356.7 1231.7,363.3 1225,363.3 1220,361.7 1213.3,366.7 1208.3,361.7 1200,358.3 1191.7,355 1183.3,354.2" fill="#FEE391" stroke="#FEE391" stroke-width="0.6"/>
<polygon points="1233.3,356.7 1238.3,350 1245,346.7 1248.3,340.8 1256.7,340 1260.8,336.7 1266.7,338.3 1273.3,346.7 1278.3,353.3 1279.2,361.7 1273.3,370 1271.7,376.7 1277.5,383.3 1270,390 1265,386.7 1250,386.7 1243.3,385 1235,381.7 1230,375 1233.3,366.7 1231.7,363.3" fill="#FFF0AE" stroke="#FFF0AE" stroke-width="0.6"/>
<polygon points="1177.5,351.7 1183.3,354.2 1191.7,355 1200,358.3 1208.3,361.7 1210,370 1206.7,376.7 1203.3,381.7 1200,378.3 1195,373.3 1186.7,366.7 1181.7,365 1176.7,365 1180.8,360" fill="#FECE65" stroke="#FECE65" stroke-width="0.6"/>
<polygon points="1210,370 1213.3,366.7 1220,361.7 1225,363.3 1231.7,363.3 1233.3,366.7 1230,375 1223.3,373.3 1216.7,373.3 1211.7,374.2" fill="#FECE65" stroke="#FECE65" stroke-width="0.6"/>
</g>
<g fill="none" stroke="#5c5c5c" stroke-width="1" stroke-linejoin="round">
<polyline points="483.8,479.5 484,480 443,489.5 439,494 432,496 436,500 440.5,498.5 441,514 448,516 454,521 456,525 458.5,531.5 449,534.5 446,536 444.5,539 445,542 452.5,544.5 453,550 454.5,555.5 452,555.5 448,557.5 444,554.5 433,552.5 429.5,550.5 428,554.5 423,556 419,555 413,551.5 402,549.5 398,546.5 393,545.5 380,549"/>
<polyline points="595,476.2 600,481.2 610,486.2 617.5,480 621.2,482.5 626.2,478.8 632.5,482.5 636.2,487.5 643.8,493.8 650,497.5 657.5,501.2 655,495 665,498.8 672.5,503.8 680,510 691.2,513.8 700,516.2"/>
<polyline points="643.8,458.8 650,460 660,466.2 665,470 672.5,472.5 673.8,480 681.2,482.5 685,487.5 691.2,490 698.8,483.8 695,478.8"/>
<polyline points="250,575 257.5,566.2 270,565.5 275,572.5 290,573.8 300,570 318.8,563.8 340,562.5 345,553.8 370,547.5 380,547"/>
<polyline points="182.5,598.8 201.2,596.2 203.8,583.8 212.5,573.8 228.8,575 237.5,577 250,575"/>
<polyline points="419,555 416,557.5 417,560.5 424,562 423,571 418,574 416.5,577 419.5,586 424,585.5 426,588 422.5,591 425,596 426,600 424,605 420.5,607.5 423,611 428,616 430,621 436,626 444,630 447.5,631.2 458.8,631.2 471.2,637.5 480,640 495,642.5 507.5,646.2 522.5,647.5 532.5,643 541.2,650 547.5,651.2 552.5,663.8 562.5,667.5 567.5,670 572.5,662.5 580,667 582.5,660 592.5,657.5 595,646.2"/>
<polyline points="595,646.2 593.8,636.2 600,623.8 595,613.8 605,603.8 617.5,606.2 626.2,625 635,633.8 640,638"/>
<polyline points="595,646.2 607.5,648.8 613.8,653.8 618.8,663.8 626.2,673.8 622.5,678.8 627.5,690 630,700 631.2,712.5 632.5,725 633.8,737.5 635,747.5 637.5,756.2 641.2,747.5 646.2,741.2 652.5,748.8 656.2,755 655,758.8 661.2,767.5 667.5,765 672.5,773.8 677.5,785 683.8,792.5 687.5,800 695,811.2 703.8,808.8 712.5,805 720,805 718.8,780 725,770 731.2,765 732.5,756.2 738.8,752.5 740,746.2 750,745 752.5,750 750,757.5 752.5,763.8 760,765.5 767.5,760 772.5,767.5 775,770"/>
<polyline points="633.8,737.5 628.8,736.2 627.5,740 622.5,737.5 621.2,750 623.8,755 618.8,758.8 613.8,753.8 612.5,757.5"/>
<polyline points="1173,297 1188,295 1190,300 1193,308 1198,314 1206,317 1213,315 1220,317 1229,315 1232,320 1238,323 1248,321 1258,326 1260,334 1266,338 1272,339 1276,348 1280,350"/>
<polyline points="1200,316 1212,315 1220,316 1230,316 1234,321 1248,322 1258,326 1261,338 1268,340 1278,352 1283,351 1288,342 1289,338 1292,341 1293,348 1298,357 1301,365 1308,365 1310,358 1320,355 1328,356 1334,353 1338,362 1348,367 1354,367"/>
<polyline points="1211,376 1214,386 1220,396 1225,402 1221,408 1226,416 1232,428 1230,432"/>
<polyline points="872,929 872,924 878,919 884,918 886,911 893,909 894,902 900,899 906,894 910,888 909,882 912,876 911,870 916,866 918,859 921,856 924,852 922,846"/>
<polyline points="922,846 927,836 932,834 940,836 942,840 945,831 950,828 957,830 966,828 967,820 970,810 968,800"/>
<polyline points="966,828 976,830 984,833 983,839 976,843 973,847 978,851 988,848 996,846 1002,845 1009,850 1008,843 1018,842 1026,845 1032,852 1034,862 1036,870 1040,874"/>
<polyline points="734,787 737,798 742,800 752,797 757,798 758,804 754,812 751,820 754,826 760,830 762,834 756,842 755,850 761,854 768,855 770,860 778,862 788,861 792,868 790,875 784,878 778,884"/>
<polyline points="909.2,458.3 910,465 905,470.8 903.3,476.7 900,483.3 898.3,491.7 891.7,498.3 890,505 894.2,511.7 895,520 889.2,532.5 890,546.7 889.2,556.7 885.8,575 883.3,590 885,592.5 886.7,594.2 891.7,606.7 900,620 900,628.3 905,636.7 910,640.8"/>
<polyline points="885,592.5 891.7,590.8 900,589.2 911.7,585.8 916.7,583.3 925,578.3 928.3,577.5 936.7,578.3 943.3,576.7 951.7,571.7 958.3,566.7 959.2,561.7 960.8,548.3 956.7,540 963.3,535 965,526.7 969.2,518.3 969.2,513.3 963.3,503.3 958.3,496.7 958.3,490 963.3,483.3 970,479.2 974.2,479.2 976.7,475 979.2,468.3 981.7,465.8 988.3,463.3 996.7,461.7 1000,455"/>
<polyline points="910,465 921.7,467.5 923.3,460 928.3,451.7 932.5,449.2 936.7,454.2 940,450 950,445 963.3,440.8 970,440"/>
<polyline points="979.2,468.3 976.7,461.7 966.7,455 973.3,451.7 978.3,446.7 975,440"/>
<polyline points="960.8,548.3 966.7,549.2 976.7,551.7 988.3,555 1000.8,555 998.3,550 996.7,543.3 1003.3,535 1006.7,528.3 1016.7,521.7 1023.3,516.7 1030,511.7 1041.7,510 1050,503.3 1056.7,498.3 1050,490 1055,483.3 1056.7,472.5"/>
<polyline points="1000.8,555 998.3,560 993.3,566.7 990,571.7 986.7,580 986.7,583.3 995,585 998.3,588.3 1001.7,593.3 1008.3,594.2 1016.7,593.3 1020,586.7 1023.3,586.7 1033.3,585 1038.3,591.7 1041.7,590 1046.7,595 1050,596.7 1058.3,590"/>
<polyline points="866.7,628.3 880,629.2 900,628.3"/>
<polyline points="866.7,628.3 875,633.3 880,640 871.7,641.7 866.7,646.7 868.3,656.7 871.7,666.7 861.7,665.8 850,658.3"/>
<polyline points="1084.2,584.2 1076.7,582.5 1075,590 1068.3,591.7 1065.8,597.5 1061.7,598.3 1058.3,591.7 1050,593.3"/>
<polyline points="1061.7,630 1065,640.8 1070,641.7 1075,636.7 1078.3,635 1081.7,635.8 1085,640 1083.3,646.7 1080.8,648.3 1076.7,645 1070.8,645 1071.7,650 1067.5,656.7 1070,663.3 1076.7,666.7 1074.2,671.7 1076.7,677.5 1083.3,676.7 1088.3,678.3 1093.3,682.5 1100,681.7 1105,686.7 1110,685 1113.3,690 1120,686.7 1123.3,683.3 1126.7,688.3 1130,693.3"/>
<polyline points="1128.3,667.5 1131.7,673.3 1128.3,678.3 1123.3,683.3"/>
<polyline points="1061.7,630 1056.7,626.7 1060,618.3 1061.7,615 1056.7,606.7 1060,603.3"/>
<polyline points="1095,682.5 1091.7,690 1085.8,695 1086.7,700 1078.3,703.3 1076.7,708.3 1075,715 1068.3,721.7 1061.7,725.8 1058.3,731.7 1061.7,738.3 1066.7,745 1068.3,755 1073.3,756.7 1075,763.3 1078.3,773.3 1083.3,776.7 1090,773.3 1093.3,770 1096.7,778.3 1105,779.2 1111.3,781.3"/>
<polyline points="1061.7,725.8 1060,721.7 1050,723.3"/>
<polyline points="1068.3,755 1060,758.3 1055,765 1050,766.7"/>
<polyline points="1129.2,665.8 1133.3,664.2 1140,668.3 1145.8,673.3 1147.5,675 1143.3,674.2 1136.7,671.7 1131.7,669.2 1129.2,665.8"/>
<polyline points="695,479.2 707.5,474.2 713.3,477.5 726.7,474.2 738.3,470 745,469.7 748,478.3 746.7,482.5 738.3,490 730.8,497.5 731.7,502.5 728.3,506.7 733.3,511.7 738.3,516.7 748.3,521.7 752.5,520 763.3,517.5 773.3,515 783.3,513.3 782.5,503.3 785,490 788.3,480 795,473.3 801.7,470.8"/>
<polyline points="700,513.3 705.8,520 711.7,525.8 710,530.8 715,538.3 718.3,546.7 721.7,553.3 720,560.8 714.2,563.3 715,569.2 706.7,570 705,576.7 700,581.7 696.7,586.7 697.5,593.3 704.2,598.3 698.3,603.3 691.7,605 680,600.8 673.3,599.2 670.8,603.3 676.7,611.7 683.3,616.7 688.3,621.7 693.3,619.2 696.7,620.8 695,625 691.7,626.7 690,628.3 681.7,626.7 678.3,631.7 680.8,640 675,644.2 668.3,645 661.7,640.8 656.7,642.5 651.7,634.2 648.3,637.5 640,638.3"/>
<polyline points="695,625 701.7,628.3 708.3,621.7 706.7,616.7 703.3,609.2 713.3,602.5 720,601.7 725,606.7 726.7,613.3 733.3,615 743.3,618.3 748.3,623.3 751.7,630 750,636.7"/>
<polyline points="783.3,513.3 787.5,515 788.3,518.3 783.3,522.5 778.3,526.7 783.3,530.8 782.5,536.7 786.7,535 791.7,540 796.7,542.5 800,533.3 802.5,529.2 816.7,528.3 816.7,530 820,533.3 826.7,533.3 833.3,538.3 840,541.7 846.7,546.7 848.3,556.7 845,568.3 848.3,575 833.3,575.8 826.7,577.5 825,583.3 815,585 806.7,581.7 800,583.3 800.8,590 796.7,595 801.7,600 800,602.5 798.3,610 801.7,620"/>
<polyline points="796.7,542.5 799.2,550 806.7,551.7 810,556.7 806.7,563.3 800,566.7 798.3,575 795,576.7 786.7,571.7 781.7,566.7 776.7,563.3 773.3,558.3 776.7,553.3 781.7,554.2"/>
<polyline points="785,636.7 795,642.5 806.7,641.7 810,641.7"/>
<polyline points="810,641.7 815,647.5 820,646.7 826.7,650 833.3,653.3 841.7,654.2 845,656.7 839.2,661.7 843.3,668.3 838.3,673.3 833.3,680 830,688.3 821.7,690 820,696.7 816.7,700 810,710 803.3,708.3 798.3,703.3 790,704.2 783.3,700.8 778.3,705.8 780,708.3 778.3,713.3 773.3,721.7 776.7,726.7 781.7,730 785,735 790,738.3 795,741.7 798.3,748.3"/>
<polyline points="845,656.7 850,658.3 856.7,663.3 861.7,667.5 868.3,666.7 875,671.7 880.8,676.7 881.7,685 875,688.3 866.7,691.7 858.3,693.3 850,696.7 843.3,696.7 845,706.7 843.3,715 850,716.7 855,723.3 860,726.7 863.3,733.3 861.7,738.3 860.8,750 863.3,760 865,768.3 860,773.3 855,780 851.7,785 858.3,783.3 865,785 866.7,790 861.7,795 863.3,803.3 866.7,808.3 871.7,815"/>
<polyline points="798.3,748.3 803.3,750 808.3,740 815,741.7 818.3,735 823.3,730.8 828.3,736.7 836.7,735 841.7,743.3 846.7,746.7 850,755 856.7,756.7 860.8,750"/>
<polyline points="798.3,748.3 793.3,746.7 786.7,743.3 780,748.3 781.7,755 786.7,758.3 793.3,758.3 795.8,763.3 793.3,768.3 783.3,769.2"/>
<polyline points="756.7,845 761.7,838.3 770,838.3 776.7,843.3 786.7,846.7 793.3,840 801.7,835 810,826.7 815,824.2 820,830 828.3,835 836.7,828.3 843.3,825 846.7,830 855,820 860,819.2 865,813.3 871.7,815 876.7,810 883.3,811.7 891.7,805 900,805 906.7,806.7 906.7,816.7 908.3,825 903.3,830 900,840 911.7,841.7 915,846.7 921.7,845"/>
<polyline points="734.2,785.8 741.7,776.7 746.7,780.8 750.8,775.8 756.7,779.2 766.7,777 773.3,773.3 775,770"/>
<polyline points="910,640 916.7,645 926.7,649.2 938.3,650.8 945.8,651.7 950,649.2 956.7,645.8 960.8,650 962.5,656.7 966.7,665 969.2,669.2 975,665 980,670 986.7,672.5 993.3,670.8 998.3,673.3 1001.7,666.7 1010,665 1010.8,656.7 1009.2,649.2"/>
<polyline points="998.3,673.3 1003.3,680 1010,683.3 1013.3,686.7 1008.3,691.7 1010,700 1013.3,706.7 1015,715.8 1020,715 1025,710.8 1029.2,710 1032.5,712.5 1030,717.5 1028.3,721.7 1033.3,720 1038.3,714.2 1043.3,716.7 1046.7,721.7 1056.7,722.5 1061.7,726.7"/>
<polyline points="900,709.2 910,713.3 921.7,715 928.3,720 938.3,720 943.3,716.7 945,721.7 950,718.3 958.3,715.8 959.2,725 961.7,731.7 966.7,735.8 973.3,728.3 978.3,726.7 983.3,723.3 990,721.7 1000,716.7 1008.3,718.3 1015,715.8"/>
<polyline points="966.7,735.8 970,740 971.7,746.7 973.3,753.3 966.7,758.3 961.7,766.7 958.3,773.3 963.3,780 965,790 970,798.3"/>
<polyline points="1010,838.3 1013.3,823.3 1016.7,815 1021.7,811.7 1024.2,805 1023.3,798.3 1023.3,793.3 1026.7,788.3 1033.3,785 1038.3,780 1036.7,773.3 1040,770 1041.7,765 1045,763.3 1050,766.7 1053.3,763.3 1061.7,760 1066.7,755"/>
<polyline points="1140,116.4 1143,121 1138,126 1134,132 1129,134 1134,138 1142,142 1150,137 1156,138 1163,143 1164,154 1168,164 1174,168 1188,165 1200,166 1210,164 1218,158.4 1223,159 1230,167 1238,175 1233,184 1228,190 1221,198 1218,204 1220,214 1218,221 1212,223 1206,233 1205,244 1202,249 1198,238 1188,246 1180,252 1172,256 1164,260 1158,266 1156,269 1160,274 1166,276 1168,284 1177,279 1183,279 1183.6,284 1172,287 1170,291 1173,297 1168,300 1164,310 1159,306 1156,304 1150,302 1142,304 1140,309 1146,311 1149,317 1152,322 1150,330 1152,338 1153.6,347 1164,345 1172,341 1175,348 1178,352 1181,360 1177,366 1184,369 1182,378 1172,384 1156,384 1144,388 1138,392 1128,396 1120,398"/>
<polyline points="1128,397 1122,398 1114,402 1108,408 1104,412 1100,404 1092,395 1087,400 1090,407 1088,416 1086,423 1078,422 1066,420 1061,412 1064,406 1058,396 1052,389 1042,390 1030,390"/>
<polyline points="1086,423 1080,425 1078,432 1084,439 1088,440 1092,442 1096,448 1100,455"/>
<polyline points="1050,389 1044,389.6 1034,394 1032,400 1018,408 1014,406 1006,409 998,413 989,413 988,402 986,400 976,404 974,412 966,418 967,424 964,429 969,434 970,440 975,440"/>
<polyline points="1008,440 1016,438 1022,433 1027,429 1034,435 1046,439 1043,450 1038,454 1034,464 1029,465 1023,469 1018,466 1008,467 1001,464 1000,456 1004,453 1010,450 1008,440"/>
<polyline points="1030,453 1038,454 1041,446 1047,449 1050,452 1047,458 1050,464 1055,466 1056,472 1062,478"/>
<polyline points="1050,490 1040,491 1030,488 1026,482 1028,474 1030,466 1026,460 1030,453"/>
<polyline points="816.7,530 817.5,520 823.3,513.3 831.7,512.5 838.3,515.8 845,513.3 851.7,506.7"/>
<polyline points="850,506.7 855,501.7 858.3,493.3 865,488.3 870,481.7 878.3,475.8 881.7,470 890,472.5 898.3,469.2 905,470.8"/>
<polyline points="1022,587 1018,596 1024,600 1034,606 1044,608 1052,616 1061,615"/>
<polyline points="1018,596 1026,608 1022,612 1016,615 1008,610 1003,608 1004,616 998,620 999,630 989,633 996,640 1004,648 1010,650 1010,660 1008,668 999,674"/>
<polyline points="572.5,385.5 566.2,388 563.8,391.2 567.5,400 563.8,406.2 556.2,408.8 547.5,414.5 543.8,410.5 540,415 530,418 522.5,423.8 515,433.8 513.8,438.8 494.5,441.2 491.2,452.5 488.8,467.5 481.2,476.2 483.8,479.5 498.8,477.5 501.2,483.8 512.5,483.8 515,487.5 527.5,488.8 530.5,497.5 542.5,496.2 548.8,499.5 555,497 563.8,498.8 570,502.5 577.5,500 581.2,493 587.5,491.2 583.8,485 586.2,477 595,476.2"/>
<polyline points="590,384.5 605.5,414.2 600,418 616.2,432.5 617,441.2 625,436.2 627.5,439.5 633.8,433.8 646.2,433.8 652.5,432 657,433.8 658.8,440 657.5,447.5 650,455 643.8,458.8"/>
<polygon points="58.8,471.2 67.5,468.8 68.8,456.2 77.5,451.2 88.8,446.2 88.8,442.5 100,442 105,439.5 108.8,448 122.5,445.5 130,436.2 132.5,429.5 137.5,428 150,430 156.2,426.2 163.8,420.5 180,414.5 192.5,408 202.5,403.8 210,398.8 208.8,386.2 215,381.2 213.8,378 222,374.5 221.2,366.2 215,352.5 213.2,337.5 203.8,331.2 206.2,327 225,323.8 243.8,318.8 247.5,322 260,322.5 263.2,319.5 255.5,314.5 257.5,305 266.2,286.2 273,271.2 285,275 297.5,277.5 310,275.8 316.2,280 322.5,276.2 331.2,273.8 332.5,267.5 329.2,250 333.8,241.2 348.8,238.8 356.2,232.5 357.5,225 363.8,222 380,221.2 382,225 378.8,228.8 386.2,236.2 396.2,241.2 398.8,246.2 411.2,251.2 420,250 427.5,254.5 437.5,260 441.2,270 452.5,281.2 453,287.5 449.5,295 452.5,301.2 446.2,307.5 444.5,313.8 448.8,322.5 462.5,325 475,327 491.2,326.2 507.5,329.5 520,335 536.2,344.5 543.8,347 550,347 550,352.5 555,357.5 562.5,372.5 570,378.8 572.5,385 590,384.5 600,386.2 617.5,388 637.5,390 650,388.8 662.5,387 675,387 693.8,391.2 702.5,398.8 711.2,400 725,405 735,407.5 755,408 756.2,413.8 765,414.5 770,410.5 776,408 790,402 804,398 820,394 836,393.6 854,393.6 866,394 874,388 882,387 890,382 898,374 904,370 910,368 916,364 922,360 920,355 913,348 910,343.6 913,338 914,332.4 918,327.6 922,325.6 932,327 940,331.6 950,333.6 959,334 970,328 978,321 983,317 990,318 999,317 1008,313 1018,309 1019,302 1025,296 1034,293 1044,288 1056,287 1064,283 1076,282.4 1082,286 1092,287 1100,285 1099.6,279 1097,273 1092,267 1084,262 1078,258 1071,252 1060,251.6 1054,251 1044,260 1034,255 1022,255 1012,259 1004,253 1002.4,248 1008,243 1009,237 1015,228 1021,218 1028,204.4 1038,208 1053,211.6 1060,209 1068,203 1080,200 1086,198 1088,193 1083,190 1086,185 1092,177 1098,167 1103,158 1112,152 1119,146 1118,136 1111,133 1104,134.4 1103.4,130 1110,126 1118,118 1132,116 1140,116.4 1138,113 1150,112 1172,109.4 1182,109 1188,112 1196,113 1200,117 1212,119 1220,118 1228,121 1232,127 1239,130 1240,135 1246,142 1249,150 1254,157 1258,167 1263,177 1268,186 1269,193 1274,196 1272,202 1276,208 1282,211 1290,210 1299,210.6 1304,214 1309,216 1314,214.4 1320,220 1328,226 1336,230 1342.4,229.4 1340,236 1344.4,239 1345,243 1342,247 1348,253 1350,259 1360,259.6 1370,259 1381,258 1386,254 1395,248.4 1404,248 1412,244 1420,242 1430,241.6 1441,240 1442,241.6 1434,244 1430,248 1431,253 1434.4,258 1429,265 1422,268 1420,276 1417,286 1413,292 1412,300 1405,308 1404,313 1398,315 1397,324 1393,327 1380,324 1369,320 1362,326 1352,331 1354,340 1356,352 1354,367 1356,368 1353,380 1348,383 1340,386 1341,393 1336,388 1332,383 1327,379 1324,380 1320,392 1312,394 1304,403 1294,404 1283,405.6 1285,412 1289,417 1285,421 1274,419 1264,416 1258,410 1250,418 1243,429 1236,433 1230,432 1222,439 1222,439 1210,446 1200,454 1195,461 1186,461 1176,463 1168,466 1160,470 1150,477 1142,482 1134,485 1128,488 1127,484 1132,480 1139,479 1140,474 1134,472 1130,468 1134,463 1139,456 1146,452 1152,445 1150,439 1144,434 1132,434.4 1124,438 1118,444 1110,450 1100,455 1094,458 1088,463 1086,469 1080,475 1076,478 1070,479 1067,482 1062,478 1056,479 1054,485 1050,490 1051,496 1056,500 1062,502 1070,504 1079,503 1084,508 1086,513 1080,517 1079,523 1084,527 1090,529 1096,528 1099,523 1104,519 1108,514 1118,512 1124,512.4 1128,517 1134,518 1138,521 1146,520 1150,519 1155,522 1163,522 1161,528 1160,534 1158,536 1152,536 1148,533 1140,536 1132,539 1126,542 1122,546 1118,551 1110,554 1105,555 1107,559 1102,565 1096,568 1092,576 1088,581 1085,586 1090,591 1100,596 1110,602 1113,610 1118,621 1122,630 1124,642 1134,650 1139,658 1144,666 1147,670 1146,673 1140,671 1132,665 1129,666 1136,673 1144,677 1150,678 1148,682 1148,690 1150,695 1140,691 1130,694 1126,698 1134,702 1140,708 1144,712 1148,720 1147,728 1148,733 1142,736 1144,742 1140,746 1139,753 1132,758 1128,763 1122,768 1117,774 1114,780 1110,786 1104,792 1096,797 1100,802 1095,808 1094,816 1098,821 1099,827 1092,830 1084,832 1080,837 1074,842 1071,849 1064,852 1059,855 1062,859 1054,864 1048,870 1044,874 1038,877 1032,879 1030,885 1024,890 1014,892 1006,895 1000,898 996,895 990,898 984,896 980,902 976,904 972,902 966,904 964,909 962,900 960,898 959,904 956,912 950,918 946,918 940,922 938,925 932,922 924,922 918,926 910,928 900,931 894,934 889,938 884,940 883,944 887,948 890,954 891,958 884,960 877,960 874,954 871,946 871,938 873,932 872,929 868,929.6 860,931 856,927 849,926 844,925 838,928 832,925 824,925 816,921 810,916 804,915 803,908 801,903 804,898 806,894 800,892 792,891 786,892 779,888 777,883 773,880 768,884 762,886 758,892 752,894 748,896 744,895 740,902 740,902 735,896 733,899 728,895 722,904 720,902 714,898 708,896 702,904 693,903 689,908 689,914 694,921 692,926 694,932 693,937 688,934.4 681,935 678,922 670,928 664,927 656,928 652.5,921.2 646.2,915 635,912.5 638.8,907.5 637.5,900 642.5,895 641.2,888.8 631.2,886.2 627.5,877.5 625,867.5 622.5,861.2 607.5,863.8 598.8,867 603.8,860 600,852.5 600,843.8 605,835 611.2,830 612.5,823.8 621.2,818.8 622.5,810 625,800 626.2,785 623.8,772.5 617.5,772.5 613.8,765 612.5,757.5 607.5,753.8 600,748.8 596.2,752.5 592.5,763.8 587.5,767.5 580,762 570,757 560,755 551.2,758 545,764.5 536.2,770 525,772.5 516.2,783.8 510,788.8 495,790 477.5,790.5 475,776.2 466.2,773.8 465,766.2 458.8,762 453.8,765 445,760.5 437.5,758.8 425,757 417.5,765 412.5,773.8 407.5,782.5 402.5,773.8 403.8,762.5 397.5,760.5 382.5,764.5 367.5,766.2 353.8,759.5 350,762.5 343,758.8 340,763.8 332.5,753.8 320.5,752.5 318.8,746.2 310,745 300,738.8 298.8,732.5 293.8,728.8 286.2,731.2 278.8,723.8 271.2,720 265,712.5 253.8,708 251.2,702.5 241.2,699.5 237,701.2 232,711.2 228.8,706.2 222.5,700 207.5,696.2 200,691.2 191.2,684.5 182.5,683.8 176.2,672.5 177.5,663.8 171.2,655 168.8,646.2 176.2,643 181.2,650.8 188.8,643.8 186.2,630 177.5,620 175,607.5 182.5,598.8 172.5,595 166.2,591.2 162.5,580 162.5,570.5 150,571.2 136.2,567.5 126.2,560 120,561.2 114.5,555 115.5,548.8 112,540 103.8,538 100,533.8 82,530 81.2,526.2 95,525 95.8,520 91.2,513.8 88.8,505 89.5,496.2 85,491.2 75,490 68.8,493 64.5,487.5 67,483.8 63.8,480 58.8,471.2"/>
<polyline points="1165,849 1158.6,878.4"/>
<polyline points="1145.4,923 1132,940"/>
<polyline points="1180,819 1182,820"/>
<polyline points="1184.4,815.2 1185.6,814.6"/>
<polyline points="1204,814.6 1205.2,815.6"/>
<polyline points="1148.8,822.4 1149.6,824"/>
<polyline points="1091.6,874.4 1094.4,875"/>
<polyline points="1093,873 1093.2,876.4"/>
<polyline points="1135.6,898.6 1136.6,899.4"/>
<polyline points="1136.8,913.6 1138.4,914.8"/>
<polyline points="1156,693 1159,693.6"/>
<polyline points="1154,699 1156,700"/>
<polyline points="1146,704 1152,703"/>
<polyline points="1148,708 1154,707"/>
<polyline points="1149,712 1157,713"/>
<polyline points="1152,717 1156,715"/>
<polyline points="862,1063 865.6,1069 869,1076 872,1083 874,1090.4"/>
<polyline points="857,939.6 858.4,940.6"/>
<polyline points="1011,938 1013.6,940 1011.6,942.4"/>
<polyline points="1029.6,947.6 1032.4,948 1031.6,950.8"/>
<polyline points="944.4,978.6 946.4,980"/>
<polyline points="963,986.4 965.2,988"/>
<polyline points="910,1040.4 912.4,1041.2"/>
<polyline points="927,1043.6 930.4,1044.4 928,1049"/>
<polyline points="911.6,1056 916,1054 917.6,1057"/>
<polyline points="922.4,1059.6 924.8,1060"/>
<polyline points="931,1061 935,1060"/>
<polyline points="935,1055 938,1060"/>
<polyline points="914,1063 918,1062"/>
<polyline points="917,1067 919.4,1066"/>
<polyline points="932.4,1068 936.4,1066.8"/>
<polyline points="927,1075.6 928.4,1076.4"/>
<polyline points="970,1068 974,1067"/>
<polyline points="977,1067 980,1066"/>
<polyline points="983,1064 987,1063.6 988,1068"/>
<polyline points="966,1072.4 967.2,1073.2"/>
<polyline points="977,1078 981,1077.6"/>
<polyline points="964.4,1081.6 965.6,1082.4"/>
<polyline points="1028,1059.6 1029.6,1060.8"/>
<polyline points="961,915 962.4,916.4"/>
<polyline points="967,918 968,918.8"/>
<polyline points="971,915 974,914.4"/>
<polyline points="966,908 974,909"/>
<polyline points="968,904 976,903"/>
<polyline points="885.3,1164 884.8,1172 882.7,1181.3 879.2,1190.1"/>
<polyline points="838.1,1296 837.1,1304 837.6,1313.3 840,1323.5"/>
<polyline points="917.3,1390.1 929.3,1387.5 937.3,1384.3 942.7,1381.3"/>
<polyline points="1001.3,1294.7 1009.9,1284 1018.7,1272.8"/>
<polyline points="1069.3,1198.1 1073.3,1189.3 1077.1,1180 1080,1170.7"/>
<polyline points="1081.3,1067.5 1081.3,1094.7"/>
<polygon points="965.3,1284 970.7,1278.7 977.3,1274.7 980,1276 976,1282.7 969.3,1285.3" fill="#D9D9D9"/>
<polygon points="865.3,1289.9 869.3,1285.3 875.5,1284 873.3,1286.1 868,1289.9" fill="#D9D9D9"/>
<path d="M910,1040h1.4"/>
<path d="M927.3,1044h1.4"/>
<path d="M928.1,1048h1.4"/>
<path d="M912.6,1054.7h1.4"/>
<path d="M916.6,1056h1.4"/>
<path d="M934,1054.7h1.4"/>
<path d="M936.6,1060h1.4"/>
<path d="M914,1062.7h1.4"/>
<path d="M922,1060h1.4"/>
<path d="M932.6,1061.3h1.4"/>
<path d="M918,1066.7h1.4"/>
<path d="M934,1068h1.4"/>
<path d="M927.3,1076h1.4"/>
<path d="M968.6,1068h1.4"/>
<path d="M976.6,1066.7h1.4"/>
<path d="M984.6,1064h1.4"/>
<path d="M987.3,1068h1.4"/>
<path d="M966,1073.3h1.4"/>
<path d="M979.3,1077.3h1.4"/>
<path d="M964.6,1081.9h1.4"/>
<path d="M1028.1,1060h1.4"/>
<path d="M1050.8,1089.9h1.4"/>
<path d="M998.5,1120.8h1.4"/>
<path d="M982,1184h1.4"/>
<path d="M1028.1,1184h1.4"/>
<path d="M983.3,1194.7h1.4"/>
<path d="M979.3,1201.3h1.4"/>
<path d="M970,1197.3h1.4"/>
<path d="M988.6,1197.3h1.4"/>
<path d="M1040.6,1194.7h1.4"/>
<path d="M1050,1196h1.4"/>
<path d="M1052.6,1201.3h1.4"/>
<path d="M1042.8,1203.5h1.4"/>
<path d="M1007.3,1209.3h1.4"/>
<path d="M1024.6,1212h1.4"/>
<path d="M1030,1209.3h1.4"/>
<path d="M1040.6,1212h1.4"/>
<path d="M958,1216h1.4"/>
<path d="M963.3,1220h1.4"/>
<path d="M973.4,1214.7h1.4"/>
<path d="M983.3,1212.5h1.4"/>
<path d="M995.8,1216.8h1.4"/>
<path d="M1013.4,1218.7h1.4"/>
<path d="M1042.8,1219.5h1.4"/>
<path d="M982,1222.7h1.4"/>
<path d="M1001.4,1224h1.4"/>
<path d="M1008.6,1228.5h1.4"/>
<path d="M1024.1,1226.7h1.4"/>
<path d="M982.5,1229.3h1.4"/>
<path d="M1016.1,1232h1.4"/>
<path d="M934,1233.3h1.4"/>
<path d="M971.3,1237.3h1.4"/>
<path d="M999.3,1237.3h1.4"/>
<path d="M1010.8,1240h1.4"/>
<path d="M1022,1242.7h1.4"/>
<path d="M1028.6,1246.1h1.4"/>
<path d="M959.3,1241.3h1.4"/>
<path d="M959.3,1247.2h1.4"/>
<path d="M966,1250.7h1.4"/>
<path d="M972.6,1253.3h1.4"/>
<path d="M982,1249.9h1.4"/>
<path d="M1018.8,1249.9h1.4"/>
<path d="M926,1249.9h1.4"/>
<path d="M930,1250.7h1.4"/>
<path d="M935.3,1251.5h1.4"/>
<path d="M941.4,1249.9h1.4"/>
<path d="M910,1258.7h1.4"/>
<path d="M914.8,1256h1.4"/>
<path d="M943.3,1261.3h1.4"/>
<path d="M994.8,1261.3h1.4"/>
<path d="M1001.4,1260h1.4"/>
<path d="M951.3,1268h1.4"/>
<path d="M965.4,1272.8h1.4"/>
<path d="M982,1269.3h1.4"/>
<path d="M986,1272h1.4"/>
<path d="M922,1270.7h1.4"/>
<path d="M876.6,1276h1.4"/>
<path d="M889.2,1269.3h1.4"/>
<path d="M890,1273.3h1.4"/>
<path d="M888.1,1278.1h1.4"/>
<path d="M912.6,1276h1.4"/>
<path d="M915.3,1280h1.4"/>
<path d="M912.1,1284h1.4"/>
<path d="M942,1277.3h1.4"/>
<path d="M962,1282.7h1.4"/>
<path d="M982,1282.7h1.4"/>
<path d="M989.2,1285.3h1.4"/>
<path d="M986,1292.5h1.4"/>
<path d="M958,1299.5h1.4"/>
<path d="M949.4,1315.5h1.4"/>
<path d="M934.5,1324h1.4"/>
<path d="M934,1330.7h1.4"/>
<path d="M930.8,1332.5h1.4"/>
<path d="M935.3,1336h1.4"/>
<path d="M936.6,1340h1.4"/>
<path d="M936.1,1346.7h1.4"/>
<path d="M943.3,1348.5h1.4"/>
<path d="M922.8,1378.7h1.4"/>
<path d="M927.3,1377.3h1.4"/>
<path d="M1154,476.7h1.4"/>
<path d="M1159.3,474h1.4"/>
<path d="M1163.3,480.7h1.4"/>
<path d="M1172.6,480h1.4"/>
<path d="M1168.6,474h1.4"/>
<path d="M1168,468h1.4"/>
<path d="M1118,502.7h1.4"/>
<path d="M1122,497.3h1.4"/>
<path d="M1115.3,508h1.4"/>
<path d="M1157.3,473.3h1.4"/>
<path d="M1161.3,475.3h1.4"/>
<path d="M1156,692.5h1.4"/>
<path d="M1158.5,693.3h1.4"/>
<path d="M1164.3,692.5h1.4"/>
<path d="M1153.5,700h1.4"/>
<path d="M1156,704.2h1.4"/>
<path d="M1149.3,702.5h1.4"/>
<path d="M1145.1,708.3h1.4"/>
<path d="M1148.5,711.7h1.4"/>
<path d="M1153.5,714.2h1.4"/>
<path d="M1156,713.3h1.4"/>
<path d="M1151,716.7h1.4"/>
<path d="M1149.3,720h1.4"/>
<path d="M1163.5,707.5h1.4"/>
<path d="M1144.3,741.7h1.4"/>
<path d="M1144,750.8h1.4"/>
<path d="M1126,764.2h1.4"/>
<path d="M1128.5,771.7h1.4"/>
<path d="M1126,775.8h1.4"/>
</g>
</svg>
<div class="frame"></div>
<div class="title">O-MF15708</div>
<div class="ltitle">相对占比</div>
<div class="sw" style="top:881.0px;background:#FFFFE5"></div><div class="lb" style="top:881.0px">0.028% - 0.119%</div>
<div class="sw" style="top:923.0px;background:#FFFACA"></div><div class="lb" style="top:923.0px">0.119% - 0.198%</div>
<div class="sw" style="top:965.0px;background:#FFF0AE"></div><div class="lb" style="top:965.0px">0.198% - 0.265%</div>
<div class="sw" style="top:1007.0px;background:#FEE391"></div><div class="lb" style="top:1007.0px">0.265% - 0.350%</div>
<div class="sw" style="top:1049.0px;background:#FECE65"></div><div class="lb" style="top:1049.0px">0.350% - 0.432%</div>
<div class="sw" style="top:1091.0px;background:#FEB642"></div><div class="lb" style="top:1091.0px">0.432% - 0.519%</div>
<div class="sw" style="top:1133.0px;background:#FE9929"></div><div class="lb" style="top:1133.0px">0.519% - 0.627%</div>
<div class="sw" style="top:1175.0px;background:#F27E1B"></div><div class="lb" style="top:1175.0px">0.627% - 0.725%</div>
<div class="sw" style="top:1217.0px;background:#E1640E"></div><div class="lb" style="top:1217.0px">0.725% - 0.847%</div>
<div class="sw" style="top:1259.0px;background:#CC4C02"></div><div class="lb" style="top:1259.0px">0.847% - 1.132%</div>
<div class="sw" style="top:1301.0px;background:#AA3C03"></div><div class="lb" style="top:1301.0px">1.132% - 1.429%</div>
<div class="sw" style="top:1343.0px;background:#882F05"></div><div class="lb" style="top:1343.0px">1.429% - 1.676%</div>
<div class="sw" style="top:1385.0px;background:#662506"></div><div class="lb" style="top:1385.0px">1.676% - 3.333%</div>
<div class="author"><span class="cj">作者</span>:O1a<span class="cj">溯源群</span></div>
</body></html>
